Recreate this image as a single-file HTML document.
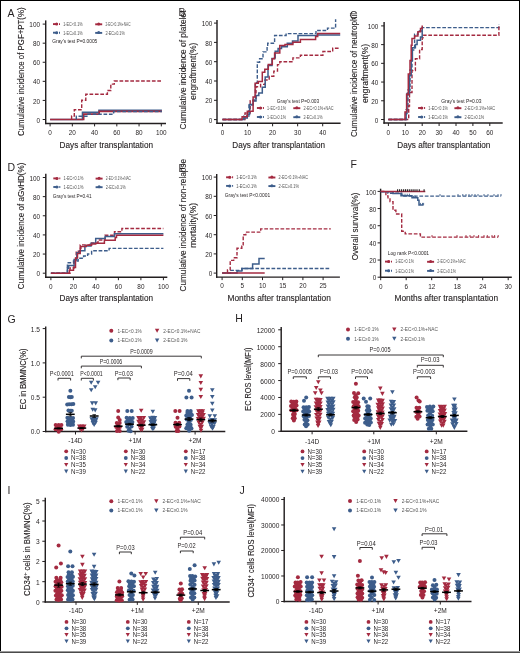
<!DOCTYPE html>
<html><head><meta charset="utf-8"><title>Figure</title>
<style>
html,body{margin:0;padding:0;background:#fff;}
svg{display:block;will-change:transform;}
text{font-family:"Liberation Sans", sans-serif;}
.t{stroke:#231f20;stroke-width:0.12px;}
</style></head>
<body>
<svg width="520" height="653" viewBox="0 0 520 653" fill="#231f20">
<rect x="0" y="0" width="520" height="653" fill="#fff"/>
<text x="7.60" y="16.80" font-size="10.5">A</text>
<line x1="45.70" y1="20.40" x2="45.70" y2="124.10" stroke="#231f20" stroke-width="1.45"/>
<line x1="45.00" y1="123.40" x2="166.00" y2="123.40" stroke="#231f20" stroke-width="1.45"/>
<line x1="42.70" y1="119.50" x2="45.70" y2="119.50" stroke="#231f20" stroke-width="1.0"/>
<text x="40.00" y="122.60" font-size="6.4" text-anchor="end">0</text>
<line x1="42.70" y1="100.42" x2="45.70" y2="100.42" stroke="#231f20" stroke-width="1.0"/>
<text x="40.00" y="103.52" font-size="6.4" text-anchor="end">20</text>
<line x1="42.70" y1="81.34" x2="45.70" y2="81.34" stroke="#231f20" stroke-width="1.0"/>
<text x="40.00" y="84.44" font-size="6.4" text-anchor="end">40</text>
<line x1="42.70" y1="62.26" x2="45.70" y2="62.26" stroke="#231f20" stroke-width="1.0"/>
<text x="40.00" y="65.36" font-size="6.4" text-anchor="end">60</text>
<line x1="42.70" y1="43.18" x2="45.70" y2="43.18" stroke="#231f20" stroke-width="1.0"/>
<text x="40.00" y="46.28" font-size="6.4" text-anchor="end">80</text>
<line x1="42.70" y1="24.10" x2="45.70" y2="24.10" stroke="#231f20" stroke-width="1.0"/>
<text x="40.00" y="27.20" font-size="6.4" text-anchor="end">100</text>
<line x1="50.10" y1="123.40" x2="50.10" y2="126.40" stroke="#231f20" stroke-width="1.0"/>
<text x="50.10" y="135.40" font-size="6.4" text-anchor="middle">0</text>
<line x1="72.34" y1="123.40" x2="72.34" y2="126.40" stroke="#231f20" stroke-width="1.0"/>
<text x="72.34" y="135.40" font-size="6.4" text-anchor="middle">20</text>
<line x1="94.58" y1="123.40" x2="94.58" y2="126.40" stroke="#231f20" stroke-width="1.0"/>
<text x="94.58" y="135.40" font-size="6.4" text-anchor="middle">40</text>
<line x1="116.82" y1="123.40" x2="116.82" y2="126.40" stroke="#231f20" stroke-width="1.0"/>
<text x="116.82" y="135.40" font-size="6.4" text-anchor="middle">60</text>
<line x1="139.06" y1="123.40" x2="139.06" y2="126.40" stroke="#231f20" stroke-width="1.0"/>
<text x="139.06" y="135.40" font-size="6.4" text-anchor="middle">80</text>
<line x1="161.30" y1="123.40" x2="161.30" y2="126.40" stroke="#231f20" stroke-width="1.0"/>
<text x="161.30" y="135.40" font-size="6.4" text-anchor="middle">100</text>
<text x="106.30" y="147.80" font-size="9" text-anchor="middle" textLength="93.50" lengthAdjust="spacingAndGlyphs" class="t">Days after transplantation</text>
<text x="23.60" y="71.70" font-size="9" text-anchor="middle" textLength="128.50" lengthAdjust="spacingAndGlyphs" transform="rotate(-90 23.60 71.70)" class="t">Cumulative incidence of PGF+PT(%)</text>
<line x1="53.00" y1="24.10" x2="58.00" y2="24.10" stroke="#a42a40" stroke-width="1.9"/>
<line x1="59.00" y1="24.10" x2="60.00" y2="24.10" stroke="#a42a40" stroke-width="1.9"/>
<circle cx="56.60" cy="24.10" r="1.5" fill="#a42a40"/>
<text x="63.20" y="25.90" font-size="5.2" textLength="19.50" lengthAdjust="spacingAndGlyphs" fill="#555">1-EC&lt;0.1%</text>
<line x1="53.00" y1="32.70" x2="58.00" y2="32.70" stroke="#3d5d8b" stroke-width="1.9"/>
<line x1="59.00" y1="32.70" x2="60.00" y2="32.70" stroke="#3d5d8b" stroke-width="1.9"/>
<circle cx="56.60" cy="32.70" r="1.5" fill="#3d5d8b"/>
<text x="63.20" y="34.50" font-size="5.2" textLength="19.50" lengthAdjust="spacingAndGlyphs" fill="#555">1-EC≥0.1%</text>
<line x1="95.20" y1="24.30" x2="102.20" y2="24.30" stroke="#a42a40" stroke-width="1.9"/>
<circle cx="98.70" cy="23.90" r="1.5" fill="#a42a40"/>
<text x="105.40" y="25.90" font-size="5.2" textLength="25.10" lengthAdjust="spacingAndGlyphs" fill="#555">2-EC&lt;0.1%+NAC</text>
<line x1="95.20" y1="32.90" x2="102.20" y2="32.90" stroke="#3d5d8b" stroke-width="1.9"/>
<circle cx="98.70" cy="32.50" r="1.5" fill="#3d5d8b"/>
<text x="105.40" y="34.50" font-size="5.2" textLength="19.50" lengthAdjust="spacingAndGlyphs" fill="#555">2-EC≥0.1%</text>
<text x="52.30" y="42.90" font-size="5.9" textLength="45.00" lengthAdjust="spacingAndGlyphs">Gray's test P=0.0005</text>
<path d="M50.1 119.5H82.5V112.4H99V110.2H161.9" fill="none" stroke="#3d5d8b" stroke-width="1.6"/>
<path d="M50.1 119.5H83.7V114.1H99.2V111.4H161.9" fill="none" stroke="#a42a40" stroke-width="1.6"/>
<path d="M76.3 119.5V116.3H88V114.3H113.6V111.6H161.9" fill="none" stroke="#3d5d8b" stroke-width="1.4" stroke-dasharray="3.7 1.7"/>
<path d="M71.6 119.5V116H74.3V109.7H81.7V100.3H85.8V94.2H107.4V90.5H110.8V84.1H114.3V81H161.9" fill="none" stroke="#a42a40" stroke-width="1.4" stroke-dasharray="3.7 1.7"/>
<text x="196.20" y="71.20" font-size="9" text-anchor="middle" textLength="57.00" lengthAdjust="spacingAndGlyphs" transform="rotate(-90 196.20 71.20)" class="t">engraftment(%)</text>
<text x="185.60" y="70.00" font-size="9" text-anchor="middle" textLength="119.00" lengthAdjust="spacingAndGlyphs" transform="rotate(-90 185.60 70.00)" class="t">Cumulative incidence of platelet</text>
<text x="178.60" y="15.80" font-size="10.5">B</text>
<line x1="217.00" y1="19.90" x2="217.00" y2="124.00" stroke="#231f20" stroke-width="1.45"/>
<line x1="216.30" y1="123.30" x2="340.60" y2="123.30" stroke="#231f20" stroke-width="1.45"/>
<line x1="214.00" y1="119.60" x2="217.00" y2="119.60" stroke="#231f20" stroke-width="1.0"/>
<text x="212.40" y="122.70" font-size="6.4" text-anchor="end">0</text>
<line x1="214.00" y1="100.30" x2="217.00" y2="100.30" stroke="#231f20" stroke-width="1.0"/>
<text x="212.40" y="103.40" font-size="6.4" text-anchor="end">20</text>
<line x1="214.00" y1="81.00" x2="217.00" y2="81.00" stroke="#231f20" stroke-width="1.0"/>
<text x="212.40" y="84.10" font-size="6.4" text-anchor="end">40</text>
<line x1="214.00" y1="61.70" x2="217.00" y2="61.70" stroke="#231f20" stroke-width="1.0"/>
<text x="212.40" y="64.80" font-size="6.4" text-anchor="end">60</text>
<line x1="214.00" y1="42.40" x2="217.00" y2="42.40" stroke="#231f20" stroke-width="1.0"/>
<text x="212.40" y="45.50" font-size="6.4" text-anchor="end">80</text>
<line x1="214.00" y1="23.10" x2="217.00" y2="23.10" stroke="#231f20" stroke-width="1.0"/>
<text x="212.40" y="26.20" font-size="6.4" text-anchor="end">100</text>
<line x1="222.50" y1="123.30" x2="222.50" y2="126.30" stroke="#231f20" stroke-width="1.0"/>
<text x="222.50" y="135.40" font-size="6.4" text-anchor="middle">0</text>
<line x1="247.55" y1="123.30" x2="247.55" y2="126.30" stroke="#231f20" stroke-width="1.0"/>
<text x="247.55" y="135.40" font-size="6.4" text-anchor="middle">10</text>
<line x1="272.60" y1="123.30" x2="272.60" y2="126.30" stroke="#231f20" stroke-width="1.0"/>
<text x="272.60" y="135.40" font-size="6.4" text-anchor="middle">20</text>
<line x1="297.65" y1="123.30" x2="297.65" y2="126.30" stroke="#231f20" stroke-width="1.0"/>
<text x="297.65" y="135.40" font-size="6.4" text-anchor="middle">30</text>
<line x1="322.70" y1="123.30" x2="322.70" y2="126.30" stroke="#231f20" stroke-width="1.0"/>
<text x="322.70" y="135.40" font-size="6.4" text-anchor="middle">40</text>
<text x="278.70" y="147.60" font-size="9" text-anchor="middle" textLength="92.70" lengthAdjust="spacingAndGlyphs" class="t">Days after transplantation</text>
<text x="276.80" y="103.10" font-size="5.9" textLength="42.40" lengthAdjust="spacingAndGlyphs">Gray's test P=0.003</text>
<line x1="256.90" y1="108.00" x2="261.90" y2="108.00" stroke="#a42a40" stroke-width="1.9"/>
<line x1="262.90" y1="108.00" x2="263.90" y2="108.00" stroke="#a42a40" stroke-width="1.9"/>
<circle cx="260.50" cy="108.00" r="1.5" fill="#a42a40"/>
<text x="267.10" y="109.80" font-size="5.2" textLength="19.00" lengthAdjust="spacingAndGlyphs" fill="#555">1-EC&lt;0.1%</text>
<line x1="256.90" y1="117.00" x2="261.90" y2="117.00" stroke="#3d5d8b" stroke-width="1.9"/>
<line x1="262.90" y1="117.00" x2="263.90" y2="117.00" stroke="#3d5d8b" stroke-width="1.9"/>
<circle cx="260.50" cy="117.00" r="1.5" fill="#3d5d8b"/>
<text x="267.10" y="118.80" font-size="5.2" textLength="19.00" lengthAdjust="spacingAndGlyphs" fill="#555">1-EC≥0.1%</text>
<line x1="293.30" y1="108.20" x2="300.30" y2="108.20" stroke="#a42a40" stroke-width="1.9"/>
<circle cx="296.80" cy="107.80" r="1.5" fill="#a42a40"/>
<text x="303.50" y="109.80" font-size="5.2" textLength="30.00" lengthAdjust="spacingAndGlyphs" fill="#555">2-EC&lt;0.1%+NAC</text>
<line x1="293.30" y1="117.20" x2="300.30" y2="117.20" stroke="#3d5d8b" stroke-width="1.9"/>
<circle cx="296.80" cy="116.80" r="1.5" fill="#3d5d8b"/>
<text x="303.50" y="118.80" font-size="5.2" textLength="19.00" lengthAdjust="spacingAndGlyphs" fill="#555">2-EC≥0.1%</text>
<path d="M222.5 119.5H244V116H249V105H253V100H255.4V82.7H257.3V62.3H259.6V58.8H263V51.9H267.1V46.1H267.7V43.3H274.6V35.5H286.1V33.6H316V30.5H327.5V28.1H335.6V19.2" fill="none" stroke="#3d5d8b" stroke-width="1.4" stroke-dasharray="3.7 1.7"/>
<path d="M222.5 119.5H245V113H250.2V100.6H256V86.7H260.6V84.4H265V80H269.2V76.3H273.8V71.1H277.5V64.6H279.8V61.7H292.9V57.9H300.4V55.2H322.9V51.5H332.7V48.3H340.2" fill="none" stroke="#a42a40" stroke-width="1.4" stroke-dasharray="3.7 1.7"/>
<path d="M222.5 119.5H243.8V117.9H247.3V114.4H249.6V104.6H253.1V101.1H256V95.4H258.8V93.1H262.3V87.3H265.2V76.9H268V65.4H272V58.5H274.6V57.7H275.2V51.3H278.1V48.4H281.5V46.7H287.3V43.3H292.5V41H298V35.6H317.1V35.1H340.2" fill="none" stroke="#3d5d8b" stroke-width="1.5"/>
<path d="M222.5 119.5H242.1V116.7H247.3V111.3H253.1V97.1H255.1V83.3H258.3V81.5H262.3V72.3H264.8V69.2H268.3V64.6H272.3V58.8H274.6V53.1H279.8V45.6H285V44.4H292.9V42.3H300.4V39.4H315.6V36.5H317.7V33.6H340.2" fill="none" stroke="#a42a40" stroke-width="1.5"/>
<text x="368.00" y="73.40" font-size="9" text-anchor="middle" textLength="59.00" lengthAdjust="spacingAndGlyphs" transform="rotate(-90 368.00 73.40)" class="t">engraftment(%)</text>
<text x="356.80" y="74.90" font-size="9" text-anchor="middle" textLength="124.20" lengthAdjust="spacingAndGlyphs" transform="rotate(-90 356.80 74.90)" class="t">Cumulative incidence of neutrophil</text>
<text x="349.80" y="18.60" font-size="10.5">C</text>
<line x1="384.10" y1="22.10" x2="384.10" y2="123.70" stroke="#231f20" stroke-width="1.45"/>
<line x1="383.40" y1="123.00" x2="502.70" y2="123.00" stroke="#231f20" stroke-width="1.45"/>
<line x1="381.10" y1="119.50" x2="384.10" y2="119.50" stroke="#231f20" stroke-width="1.0"/>
<text x="378.40" y="122.60" font-size="6.4" text-anchor="end">0</text>
<line x1="381.10" y1="100.78" x2="384.10" y2="100.78" stroke="#231f20" stroke-width="1.0"/>
<text x="378.40" y="103.88" font-size="6.4" text-anchor="end">20</text>
<line x1="381.10" y1="82.06" x2="384.10" y2="82.06" stroke="#231f20" stroke-width="1.0"/>
<text x="378.40" y="85.16" font-size="6.4" text-anchor="end">40</text>
<line x1="381.10" y1="63.34" x2="384.10" y2="63.34" stroke="#231f20" stroke-width="1.0"/>
<text x="378.40" y="66.44" font-size="6.4" text-anchor="end">60</text>
<line x1="381.10" y1="44.62" x2="384.10" y2="44.62" stroke="#231f20" stroke-width="1.0"/>
<text x="378.40" y="47.72" font-size="6.4" text-anchor="end">80</text>
<line x1="381.10" y1="25.90" x2="384.10" y2="25.90" stroke="#231f20" stroke-width="1.0"/>
<text x="378.40" y="29.00" font-size="6.4" text-anchor="end">100</text>
<line x1="388.40" y1="123.00" x2="388.40" y2="126.00" stroke="#231f20" stroke-width="1.0"/>
<text x="388.40" y="135.40" font-size="6.4" text-anchor="middle">0</text>
<line x1="405.30" y1="123.00" x2="405.30" y2="126.00" stroke="#231f20" stroke-width="1.0"/>
<text x="405.30" y="135.40" font-size="6.4" text-anchor="middle">10</text>
<line x1="422.20" y1="123.00" x2="422.20" y2="126.00" stroke="#231f20" stroke-width="1.0"/>
<text x="422.20" y="135.40" font-size="6.4" text-anchor="middle">20</text>
<line x1="439.10" y1="123.00" x2="439.10" y2="126.00" stroke="#231f20" stroke-width="1.0"/>
<text x="439.10" y="135.40" font-size="6.4" text-anchor="middle">30</text>
<line x1="456.00" y1="123.00" x2="456.00" y2="126.00" stroke="#231f20" stroke-width="1.0"/>
<text x="456.00" y="135.40" font-size="6.4" text-anchor="middle">40</text>
<line x1="472.90" y1="123.00" x2="472.90" y2="126.00" stroke="#231f20" stroke-width="1.0"/>
<text x="472.90" y="135.40" font-size="6.4" text-anchor="middle">50</text>
<line x1="489.80" y1="123.00" x2="489.80" y2="126.00" stroke="#231f20" stroke-width="1.0"/>
<text x="489.80" y="135.40" font-size="6.4" text-anchor="middle">60</text>
<text x="443.80" y="147.60" font-size="9" text-anchor="middle" textLength="93.10" lengthAdjust="spacingAndGlyphs" class="t">Days after transplantation</text>
<text x="441.20" y="103.00" font-size="5.9" textLength="40.40" lengthAdjust="spacingAndGlyphs">Gray's test P=0.03</text>
<line x1="418.10" y1="108.00" x2="423.10" y2="108.00" stroke="#a42a40" stroke-width="1.9"/>
<line x1="424.10" y1="108.00" x2="425.10" y2="108.00" stroke="#a42a40" stroke-width="1.9"/>
<circle cx="421.70" cy="108.00" r="1.5" fill="#a42a40"/>
<text x="428.30" y="109.80" font-size="5.2" textLength="19.70" lengthAdjust="spacingAndGlyphs" fill="#555">1-EC&lt;0.1%</text>
<line x1="418.10" y1="117.00" x2="423.10" y2="117.00" stroke="#3d5d8b" stroke-width="1.9"/>
<line x1="424.10" y1="117.00" x2="425.10" y2="117.00" stroke="#3d5d8b" stroke-width="1.9"/>
<circle cx="421.70" cy="117.00" r="1.5" fill="#3d5d8b"/>
<text x="428.30" y="118.80" font-size="5.2" textLength="19.70" lengthAdjust="spacingAndGlyphs" fill="#555">1-EC≥0.1%</text>
<line x1="454.40" y1="108.20" x2="461.40" y2="108.20" stroke="#a42a40" stroke-width="1.9"/>
<circle cx="457.90" cy="107.80" r="1.5" fill="#a42a40"/>
<text x="464.60" y="109.80" font-size="5.2" textLength="30.50" lengthAdjust="spacingAndGlyphs" fill="#555">2-EC&lt;0.1%+NAC</text>
<line x1="454.40" y1="117.20" x2="461.40" y2="117.20" stroke="#3d5d8b" stroke-width="1.9"/>
<circle cx="457.90" cy="116.80" r="1.5" fill="#3d5d8b"/>
<text x="464.60" y="118.80" font-size="5.2" textLength="19.70" lengthAdjust="spacingAndGlyphs" fill="#555">2-EC≥0.1%</text>
<path d="M388.4 119.5H406V110H408V90H410V70H412V50H414.6V34.3H418V31H422.2V27.6H498.9V24.6" fill="none" stroke="#3d5d8b" stroke-width="1.4" stroke-dasharray="3.7 1.7"/>
<path d="M388.4 119.5H408.7V106H409.5V92.5H412V70.6H415.4V58.8H419.6V49.5H422.2V37.7H423.8V35.2H498.9V25.6" fill="none" stroke="#a42a40" stroke-width="1.4" stroke-dasharray="3.7 1.7"/>
<path d="M388.4 119.5H406.1V113.6H407V93.4H409.5V75.6H411.2V60.5H412.4V47.8H415.4V44.5H417.1V40.2H420.5V36.9H422.2V27.6" fill="none" stroke="#3d5d8b" stroke-width="1.5"/>
<path d="M388.4 119.5H405V111.9H406.6V94.2H408.3V74H410V60.5H411.2V45.3H412V38.5H414.6V36H417.9V31.8H420.5V28.4H422.2V25.4" fill="none" stroke="#a42a40" stroke-width="1.5"/>
<text x="7.60" y="170.60" font-size="10.5">D</text>
<line x1="45.80" y1="173.70" x2="45.80" y2="277.90" stroke="#231f20" stroke-width="1.45"/>
<line x1="45.10" y1="277.20" x2="167.30" y2="277.20" stroke="#231f20" stroke-width="1.45"/>
<line x1="42.80" y1="273.20" x2="45.80" y2="273.20" stroke="#231f20" stroke-width="1.0"/>
<text x="40.10" y="276.30" font-size="6.4" text-anchor="end">0</text>
<line x1="42.80" y1="254.06" x2="45.80" y2="254.06" stroke="#231f20" stroke-width="1.0"/>
<text x="40.10" y="257.16" font-size="6.4" text-anchor="end">20</text>
<line x1="42.80" y1="234.92" x2="45.80" y2="234.92" stroke="#231f20" stroke-width="1.0"/>
<text x="40.10" y="238.02" font-size="6.4" text-anchor="end">40</text>
<line x1="42.80" y1="215.78" x2="45.80" y2="215.78" stroke="#231f20" stroke-width="1.0"/>
<text x="40.10" y="218.88" font-size="6.4" text-anchor="end">60</text>
<line x1="42.80" y1="196.64" x2="45.80" y2="196.64" stroke="#231f20" stroke-width="1.0"/>
<text x="40.10" y="199.74" font-size="6.4" text-anchor="end">80</text>
<line x1="42.80" y1="177.50" x2="45.80" y2="177.50" stroke="#231f20" stroke-width="1.0"/>
<text x="40.10" y="180.60" font-size="6.4" text-anchor="end">100</text>
<line x1="50.90" y1="277.20" x2="50.90" y2="280.20" stroke="#231f20" stroke-width="1.0"/>
<text x="50.90" y="289.20" font-size="6.4" text-anchor="middle">0</text>
<line x1="73.40" y1="277.20" x2="73.40" y2="280.20" stroke="#231f20" stroke-width="1.0"/>
<text x="73.40" y="289.20" font-size="6.4" text-anchor="middle">20</text>
<line x1="95.90" y1="277.20" x2="95.90" y2="280.20" stroke="#231f20" stroke-width="1.0"/>
<text x="95.90" y="289.20" font-size="6.4" text-anchor="middle">40</text>
<line x1="118.40" y1="277.20" x2="118.40" y2="280.20" stroke="#231f20" stroke-width="1.0"/>
<text x="118.40" y="289.20" font-size="6.4" text-anchor="middle">60</text>
<line x1="140.90" y1="277.20" x2="140.90" y2="280.20" stroke="#231f20" stroke-width="1.0"/>
<text x="140.90" y="289.20" font-size="6.4" text-anchor="middle">80</text>
<line x1="163.40" y1="277.20" x2="163.40" y2="280.20" stroke="#231f20" stroke-width="1.0"/>
<text x="163.40" y="289.20" font-size="6.4" text-anchor="middle">100</text>
<text x="106.30" y="301.20" font-size="9" text-anchor="middle" textLength="93.50" lengthAdjust="spacingAndGlyphs" class="t">Days after transplantation</text>
<text x="23.60" y="225.90" font-size="9" text-anchor="middle" textLength="126.50" lengthAdjust="spacingAndGlyphs" transform="rotate(-90 23.60 225.90)" class="t">Cumulative incidence of aGvHD(%)</text>
<line x1="53.30" y1="178.40" x2="58.30" y2="178.40" stroke="#a42a40" stroke-width="1.9"/>
<line x1="59.30" y1="178.40" x2="60.30" y2="178.40" stroke="#a42a40" stroke-width="1.9"/>
<circle cx="56.90" cy="178.40" r="1.5" fill="#a42a40"/>
<text x="63.50" y="180.20" font-size="5.2" textLength="19.90" lengthAdjust="spacingAndGlyphs" fill="#555">1-EC&lt;0.1%</text>
<line x1="53.30" y1="187.00" x2="58.30" y2="187.00" stroke="#3d5d8b" stroke-width="1.9"/>
<line x1="59.30" y1="187.00" x2="60.30" y2="187.00" stroke="#3d5d8b" stroke-width="1.9"/>
<circle cx="56.90" cy="187.00" r="1.5" fill="#3d5d8b"/>
<text x="63.50" y="188.80" font-size="5.2" textLength="19.90" lengthAdjust="spacingAndGlyphs" fill="#555">1-EC≥0.1%</text>
<line x1="95.60" y1="178.60" x2="102.60" y2="178.60" stroke="#a42a40" stroke-width="1.9"/>
<circle cx="99.10" cy="178.20" r="1.5" fill="#a42a40"/>
<text x="105.80" y="180.20" font-size="5.2" textLength="25.10" lengthAdjust="spacingAndGlyphs" fill="#555">2-EC&lt;0.1%+NAC</text>
<line x1="95.60" y1="187.20" x2="102.60" y2="187.20" stroke="#3d5d8b" stroke-width="1.9"/>
<circle cx="99.10" cy="186.80" r="1.5" fill="#3d5d8b"/>
<text x="105.80" y="188.80" font-size="5.2" textLength="19.90" lengthAdjust="spacingAndGlyphs" fill="#555">2-EC≥0.1%</text>
<text x="52.80" y="197.50" font-size="5.9" textLength="38.80" lengthAdjust="spacingAndGlyphs">Gray's test P=0.41</text>
<path d="M50.9 273.2H67.4V262.8H73.5V261H78.2V258.3H83.6V256H87.6V254H91.6V250.7H109.1V248.4H163.4" fill="none" stroke="#3d5d8b" stroke-width="1.4" stroke-dasharray="3.7 1.7"/>
<path d="M50.9 273.2H70V268H74V262H76.2V251.3H80.2V244.9H90V243H98V240H105.1V235.2H114.5V231.8H121.9V228.5H163.4" fill="none" stroke="#a42a40" stroke-width="1.4" stroke-dasharray="3.7 1.7"/>
<path d="M50.9 273.2H67.4V268.2H68.7V265.5H74.1V259.4H76.8V252.7H79.5V250.7H84.9V246H91V243.3H95.7V238.6H105.1V236.5H114.5V233.8H163.4" fill="none" stroke="#3d5d8b" stroke-width="1.5"/>
<path d="M50.9 273.2H69.4V270.2H73.5V267.5H75.5V258.1H77.5V253.4H80.2V248.6H80.9V246.6H86.2V245.3H91.6V243.9H95.7V243.3H104.4V240.3H115.2V237.6H116.5V235.2H163.4" fill="none" stroke="#a42a40" stroke-width="1.5"/>
<text x="195.70" y="225.30" font-size="9" text-anchor="middle" textLength="44.80" lengthAdjust="spacingAndGlyphs" transform="rotate(-90 195.70 225.30)" class="t">mortality(%)</text>
<text x="185.60" y="225.20" font-size="9" text-anchor="middle" textLength="132.40" lengthAdjust="spacingAndGlyphs" transform="rotate(-90 185.60 225.20)" class="t">Cumulative incidence of non-relapse</text>
<text x="178.40" y="171.50" font-size="10.5">E</text>
<line x1="216.70" y1="174.00" x2="216.70" y2="277.80" stroke="#231f20" stroke-width="1.45"/>
<line x1="216.00" y1="277.10" x2="339.90" y2="277.10" stroke="#231f20" stroke-width="1.45"/>
<line x1="213.70" y1="273.10" x2="216.70" y2="273.10" stroke="#231f20" stroke-width="1.0"/>
<text x="212.40" y="276.20" font-size="6.4" text-anchor="end">0</text>
<line x1="213.70" y1="253.90" x2="216.70" y2="253.90" stroke="#231f20" stroke-width="1.0"/>
<text x="212.40" y="257.00" font-size="6.4" text-anchor="end">20</text>
<line x1="213.70" y1="234.70" x2="216.70" y2="234.70" stroke="#231f20" stroke-width="1.0"/>
<text x="212.40" y="237.80" font-size="6.4" text-anchor="end">40</text>
<line x1="213.70" y1="215.50" x2="216.70" y2="215.50" stroke="#231f20" stroke-width="1.0"/>
<text x="212.40" y="218.60" font-size="6.4" text-anchor="end">60</text>
<line x1="213.70" y1="196.30" x2="216.70" y2="196.30" stroke="#231f20" stroke-width="1.0"/>
<text x="212.40" y="199.40" font-size="6.4" text-anchor="end">80</text>
<line x1="213.70" y1="177.10" x2="216.70" y2="177.10" stroke="#231f20" stroke-width="1.0"/>
<text x="212.40" y="180.20" font-size="6.4" text-anchor="end">100</text>
<line x1="222.10" y1="277.10" x2="222.10" y2="280.10" stroke="#231f20" stroke-width="1.0"/>
<text x="222.10" y="288.30" font-size="6.4" text-anchor="middle">0</text>
<line x1="242.30" y1="277.10" x2="242.30" y2="280.10" stroke="#231f20" stroke-width="1.0"/>
<text x="242.30" y="288.30" font-size="6.4" text-anchor="middle">5</text>
<line x1="262.50" y1="277.10" x2="262.50" y2="280.10" stroke="#231f20" stroke-width="1.0"/>
<text x="262.50" y="288.30" font-size="6.4" text-anchor="middle">10</text>
<line x1="282.70" y1="277.10" x2="282.70" y2="280.10" stroke="#231f20" stroke-width="1.0"/>
<text x="282.70" y="288.30" font-size="6.4" text-anchor="middle">15</text>
<line x1="302.90" y1="277.10" x2="302.90" y2="280.10" stroke="#231f20" stroke-width="1.0"/>
<text x="302.90" y="288.30" font-size="6.4" text-anchor="middle">20</text>
<line x1="323.10" y1="277.10" x2="323.10" y2="280.10" stroke="#231f20" stroke-width="1.0"/>
<text x="323.10" y="288.30" font-size="6.4" text-anchor="middle">25</text>
<text x="279.20" y="301.30" font-size="9" text-anchor="middle" textLength="103.30" lengthAdjust="spacingAndGlyphs" class="t">Months after transplantation</text>
<line x1="226.10" y1="177.30" x2="231.10" y2="177.30" stroke="#a42a40" stroke-width="1.9"/>
<line x1="232.10" y1="177.30" x2="233.10" y2="177.30" stroke="#a42a40" stroke-width="1.9"/>
<circle cx="229.70" cy="177.30" r="1.5" fill="#a42a40"/>
<text x="236.30" y="179.10" font-size="5.2" textLength="20.40" lengthAdjust="spacingAndGlyphs" fill="#555">1-EC&lt;0.1%</text>
<line x1="226.10" y1="185.90" x2="231.10" y2="185.90" stroke="#3d5d8b" stroke-width="1.9"/>
<line x1="232.10" y1="185.90" x2="233.10" y2="185.90" stroke="#3d5d8b" stroke-width="1.9"/>
<circle cx="229.70" cy="185.90" r="1.5" fill="#3d5d8b"/>
<text x="236.30" y="187.70" font-size="5.2" textLength="20.40" lengthAdjust="spacingAndGlyphs" fill="#555">1-EC≥0.1%</text>
<line x1="268.40" y1="177.50" x2="275.40" y2="177.50" stroke="#a42a40" stroke-width="1.9"/>
<circle cx="271.90" cy="177.10" r="1.5" fill="#a42a40"/>
<text x="278.60" y="179.10" font-size="5.2" textLength="29.40" lengthAdjust="spacingAndGlyphs" fill="#555">2-EC&lt;0.1%+NAC</text>
<line x1="268.40" y1="186.10" x2="275.40" y2="186.10" stroke="#3d5d8b" stroke-width="1.9"/>
<circle cx="271.90" cy="185.70" r="1.5" fill="#3d5d8b"/>
<text x="278.60" y="187.70" font-size="5.2" textLength="20.40" lengthAdjust="spacingAndGlyphs" fill="#555">2-EC≥0.1%</text>
<text x="224.80" y="197.20" font-size="5.9" textLength="45.40" lengthAdjust="spacingAndGlyphs">Gray's test P&lt;0.0001</text>
<path d="M222.1 273.1H230.2V270.4H242V268.5H330.8" fill="none" stroke="#3d5d8b" stroke-width="1.4" stroke-dasharray="3.7 1.7"/>
<path d="M227.5 273.1V269.9H230.2V260.4H233.7V257.7H237V248.3H241.8V246.1H243.2V234.8H245.8V232.1H260.7V228.9H330.8" fill="none" stroke="#a42a40" stroke-width="1.4" stroke-dasharray="3.7 1.7"/>
<path d="M222.1 273.1H237V271H241.8V268.5H252.6V263.9H259V258.5H264.7" fill="none" stroke="#3d5d8b" stroke-width="1.5"/>
<path d="M222.1 273.1H264.7" fill="none" stroke="#a42a40" stroke-width="1.5"/>
<text x="350.60" y="168.40" font-size="10.5">F</text>
<line x1="380.60" y1="188.70" x2="380.60" y2="277.90" stroke="#231f20" stroke-width="1.45"/>
<line x1="379.90" y1="277.20" x2="511.80" y2="277.20" stroke="#231f20" stroke-width="1.45"/>
<line x1="377.60" y1="277.20" x2="380.60" y2="277.20" stroke="#231f20" stroke-width="1.0"/>
<text x="376.30" y="280.30" font-size="6.4" text-anchor="end">0</text>
<line x1="377.60" y1="260.04" x2="380.60" y2="260.04" stroke="#231f20" stroke-width="1.0"/>
<text x="376.30" y="263.14" font-size="6.4" text-anchor="end">20</text>
<line x1="377.60" y1="242.88" x2="380.60" y2="242.88" stroke="#231f20" stroke-width="1.0"/>
<text x="376.30" y="245.98" font-size="6.4" text-anchor="end">40</text>
<line x1="377.60" y1="225.72" x2="380.60" y2="225.72" stroke="#231f20" stroke-width="1.0"/>
<text x="376.30" y="228.82" font-size="6.4" text-anchor="end">60</text>
<line x1="377.60" y1="208.56" x2="380.60" y2="208.56" stroke="#231f20" stroke-width="1.0"/>
<text x="376.30" y="211.66" font-size="6.4" text-anchor="end">80</text>
<line x1="377.60" y1="191.40" x2="380.60" y2="191.40" stroke="#231f20" stroke-width="1.0"/>
<text x="376.30" y="194.50" font-size="6.4" text-anchor="end">100</text>
<line x1="380.70" y1="277.20" x2="380.70" y2="280.20" stroke="#231f20" stroke-width="1.0"/>
<text x="380.70" y="289.00" font-size="6.4" text-anchor="middle">0</text>
<line x1="406.20" y1="277.20" x2="406.20" y2="280.20" stroke="#231f20" stroke-width="1.0"/>
<text x="406.20" y="289.00" font-size="6.4" text-anchor="middle">6</text>
<line x1="431.70" y1="277.20" x2="431.70" y2="280.20" stroke="#231f20" stroke-width="1.0"/>
<text x="431.70" y="289.00" font-size="6.4" text-anchor="middle">12</text>
<line x1="457.20" y1="277.20" x2="457.20" y2="280.20" stroke="#231f20" stroke-width="1.0"/>
<text x="457.20" y="289.00" font-size="6.4" text-anchor="middle">18</text>
<line x1="482.70" y1="277.20" x2="482.70" y2="280.20" stroke="#231f20" stroke-width="1.0"/>
<text x="482.70" y="289.00" font-size="6.4" text-anchor="middle">24</text>
<line x1="508.20" y1="277.20" x2="508.20" y2="280.20" stroke="#231f20" stroke-width="1.0"/>
<text x="508.20" y="289.00" font-size="6.4" text-anchor="middle">30</text>
<text x="446.30" y="301.30" font-size="9" text-anchor="middle" textLength="103.70" lengthAdjust="spacingAndGlyphs" class="t">Months after transplantation</text>
<text x="358.00" y="226.40" font-size="9" text-anchor="middle" textLength="67.80" lengthAdjust="spacingAndGlyphs" transform="rotate(-90 358.00 226.40)" class="t">Overall survival(%)</text>
<text x="387.70" y="254.90" font-size="5.9" textLength="41.40" lengthAdjust="spacingAndGlyphs">Log rank P&lt;0.0001</text>
<line x1="385.00" y1="261.60" x2="390.00" y2="261.60" stroke="#a42a40" stroke-width="1.9"/>
<line x1="391.00" y1="261.60" x2="392.00" y2="261.60" stroke="#a42a40" stroke-width="1.9"/>
<circle cx="388.60" cy="261.60" r="1.5" fill="#a42a40"/>
<text x="395.20" y="263.40" font-size="5.2" textLength="18.70" lengthAdjust="spacingAndGlyphs" fill="#555">1-EC&lt;0.1%</text>
<line x1="385.00" y1="270.70" x2="390.00" y2="270.70" stroke="#3d5d8b" stroke-width="1.9"/>
<line x1="391.00" y1="270.70" x2="392.00" y2="270.70" stroke="#3d5d8b" stroke-width="1.9"/>
<circle cx="388.60" cy="270.70" r="1.5" fill="#3d5d8b"/>
<text x="395.20" y="272.50" font-size="5.2" textLength="18.70" lengthAdjust="spacingAndGlyphs" fill="#555">1-EC≥0.1%</text>
<line x1="427.10" y1="261.80" x2="434.10" y2="261.80" stroke="#a42a40" stroke-width="1.9"/>
<circle cx="430.60" cy="261.40" r="1.5" fill="#a42a40"/>
<text x="437.30" y="263.40" font-size="5.2" textLength="28.20" lengthAdjust="spacingAndGlyphs" fill="#555">2-EC&lt;0.1%+NAC</text>
<line x1="427.10" y1="270.90" x2="434.10" y2="270.90" stroke="#3d5d8b" stroke-width="1.9"/>
<circle cx="430.60" cy="270.50" r="1.5" fill="#3d5d8b"/>
<text x="437.30" y="272.50" font-size="5.2" textLength="18.70" lengthAdjust="spacingAndGlyphs" fill="#555">2-EC≥0.1%</text>
<path d="M380.7 191.4H385.9V195.9H388V199H390V201.6H393V210.3H395.9V214H401.7V231.3H405.2V233.9H420.4V237.1H498.2" fill="none" stroke="#a42a40" stroke-width="1.4" stroke-dasharray="3.7 1.7"/>
<path d="M380.7 191.6H388V193.2H401.7V196.1H501.1" fill="none" stroke="#3d5d8b" stroke-width="1.4" stroke-dasharray="3.7 1.7"/>
<path d="M380.7 191.8H393V193.6H401V195.7H412V197.8H417.8V200.3H419V204.9H423.6" fill="none" stroke="#3d5d8b" stroke-width="1.5"/>
<path d="M380.7 191.6H425.3" fill="none" stroke="#a42a40" stroke-width="1.5"/>
<line x1="397.60" y1="191.60" x2="397.60" y2="189.20" stroke="#231f20" stroke-width="1.1"/>
<line x1="399.60" y1="191.60" x2="399.60" y2="189.20" stroke="#231f20" stroke-width="1.1"/>
<line x1="401.60" y1="191.60" x2="401.60" y2="189.20" stroke="#231f20" stroke-width="1.1"/>
<line x1="403.60" y1="191.60" x2="403.60" y2="189.20" stroke="#231f20" stroke-width="1.1"/>
<line x1="405.50" y1="191.60" x2="405.50" y2="189.20" stroke="#231f20" stroke-width="1.1"/>
<line x1="407.40" y1="191.60" x2="407.40" y2="189.20" stroke="#231f20" stroke-width="1.1"/>
<line x1="409.30" y1="191.60" x2="409.30" y2="189.20" stroke="#231f20" stroke-width="1.1"/>
<line x1="411.20" y1="191.60" x2="411.20" y2="189.20" stroke="#231f20" stroke-width="1.1"/>
<line x1="413.10" y1="191.60" x2="413.10" y2="189.20" stroke="#231f20" stroke-width="1.1"/>
<line x1="415.00" y1="191.60" x2="415.00" y2="189.20" stroke="#231f20" stroke-width="1.1"/>
<line x1="417.00" y1="191.60" x2="417.00" y2="189.20" stroke="#231f20" stroke-width="1.1"/>
<line x1="419.30" y1="191.60" x2="419.30" y2="189.20" stroke="#231f20" stroke-width="1.1"/>
<line x1="424.10" y1="191.60" x2="424.10" y2="189.20" stroke="#231f20" stroke-width="1.1"/>
<line x1="402.80" y1="195.70" x2="402.80" y2="193.70" stroke="#3d5d8b" stroke-width="0.9"/>
<line x1="405.00" y1="195.70" x2="405.00" y2="193.70" stroke="#3d5d8b" stroke-width="0.9"/>
<line x1="407.20" y1="195.70" x2="407.20" y2="193.70" stroke="#3d5d8b" stroke-width="0.9"/>
<line x1="409.40" y1="195.70" x2="409.40" y2="193.70" stroke="#3d5d8b" stroke-width="0.9"/>
<line x1="413.50" y1="197.80" x2="413.50" y2="195.80" stroke="#3d5d8b" stroke-width="0.9"/>
<line x1="415.60" y1="197.80" x2="415.60" y2="195.80" stroke="#3d5d8b" stroke-width="0.9"/>
<line x1="420.40" y1="204.90" x2="420.40" y2="202.90" stroke="#3d5d8b" stroke-width="0.9"/>
<line x1="422.50" y1="204.90" x2="422.50" y2="202.90" stroke="#3d5d8b" stroke-width="0.9"/>
<line x1="423.60" y1="204.90" x2="423.60" y2="202.90" stroke="#3d5d8b" stroke-width="0.9"/>
<line x1="440.00" y1="196.10" x2="440.00" y2="194.00" stroke="#3d5d8b" stroke-width="0.9"/>
<line x1="458.00" y1="196.10" x2="458.00" y2="194.00" stroke="#3d5d8b" stroke-width="0.9"/>
<line x1="462.80" y1="196.10" x2="462.80" y2="194.00" stroke="#3d5d8b" stroke-width="0.9"/>
<line x1="466.00" y1="196.10" x2="466.00" y2="194.00" stroke="#3d5d8b" stroke-width="0.9"/>
<line x1="469.00" y1="196.10" x2="469.00" y2="194.00" stroke="#3d5d8b" stroke-width="0.9"/>
<line x1="472.00" y1="196.10" x2="472.00" y2="194.00" stroke="#3d5d8b" stroke-width="0.9"/>
<line x1="475.00" y1="196.10" x2="475.00" y2="194.00" stroke="#3d5d8b" stroke-width="0.9"/>
<line x1="478.00" y1="196.10" x2="478.00" y2="194.00" stroke="#3d5d8b" stroke-width="0.9"/>
<line x1="484.00" y1="196.10" x2="484.00" y2="194.00" stroke="#3d5d8b" stroke-width="0.9"/>
<line x1="488.00" y1="196.10" x2="488.00" y2="194.00" stroke="#3d5d8b" stroke-width="0.9"/>
<line x1="494.00" y1="196.10" x2="494.00" y2="194.00" stroke="#3d5d8b" stroke-width="0.9"/>
<line x1="498.00" y1="196.10" x2="498.00" y2="194.00" stroke="#3d5d8b" stroke-width="0.9"/>
<line x1="501.00" y1="196.10" x2="501.00" y2="194.00" stroke="#3d5d8b" stroke-width="0.9"/>
<line x1="432.00" y1="237.10" x2="432.00" y2="235.00" stroke="#a42a40" stroke-width="0.9"/>
<line x1="457.00" y1="237.10" x2="457.00" y2="235.00" stroke="#a42a40" stroke-width="0.9"/>
<line x1="466.00" y1="237.10" x2="466.00" y2="235.00" stroke="#a42a40" stroke-width="0.9"/>
<line x1="470.00" y1="237.10" x2="470.00" y2="235.00" stroke="#a42a40" stroke-width="0.9"/>
<line x1="474.00" y1="237.10" x2="474.00" y2="235.00" stroke="#a42a40" stroke-width="0.9"/>
<line x1="478.60" y1="237.10" x2="478.60" y2="235.00" stroke="#a42a40" stroke-width="0.9"/>
<line x1="484.00" y1="237.10" x2="484.00" y2="235.00" stroke="#a42a40" stroke-width="0.9"/>
<line x1="487.30" y1="237.10" x2="487.30" y2="235.00" stroke="#a42a40" stroke-width="0.9"/>
<line x1="492.00" y1="237.10" x2="492.00" y2="235.00" stroke="#a42a40" stroke-width="0.9"/>
<line x1="494.60" y1="237.10" x2="494.60" y2="235.00" stroke="#a42a40" stroke-width="0.9"/>
<line x1="498.20" y1="237.10" x2="498.20" y2="235.00" stroke="#a42a40" stroke-width="0.9"/>
<text x="7.60" y="322.60" font-size="10.5">G</text>
<line x1="45.70" y1="326.50" x2="45.70" y2="432.20" stroke="#231f20" stroke-width="1.45"/>
<line x1="45.00" y1="431.50" x2="225.30" y2="431.50" stroke="#231f20" stroke-width="1.45"/>
<line x1="42.70" y1="431.50" x2="45.70" y2="431.50" stroke="#231f20" stroke-width="1.0"/>
<text x="40.00" y="434.48" font-size="6.6" text-anchor="end">0.0</text>
<line x1="42.70" y1="397.20" x2="45.70" y2="397.20" stroke="#231f20" stroke-width="1.0"/>
<text x="40.00" y="400.18" font-size="6.6" text-anchor="end">0.5</text>
<line x1="42.70" y1="362.90" x2="45.70" y2="362.90" stroke="#231f20" stroke-width="1.0"/>
<text x="40.00" y="365.88" font-size="6.6" text-anchor="end">1.0</text>
<line x1="42.70" y1="328.60" x2="45.70" y2="328.60" stroke="#231f20" stroke-width="1.0"/>
<text x="40.00" y="331.58" font-size="6.6" text-anchor="end">1.5</text>
<line x1="75.50" y1="431.50" x2="75.50" y2="434.50" stroke="#231f20" stroke-width="1.0"/>
<text x="75.50" y="443.30" font-size="6.6" text-anchor="middle">-14D</text>
<line x1="135.10" y1="431.50" x2="135.10" y2="434.50" stroke="#231f20" stroke-width="1.0"/>
<text x="135.10" y="443.30" font-size="6.6" text-anchor="middle">+1M</text>
<line x1="195.10" y1="431.50" x2="195.10" y2="434.50" stroke="#231f20" stroke-width="1.0"/>
<text x="195.10" y="443.30" font-size="6.6" text-anchor="middle">+2M</text>
<text x="25.60" y="378.90" font-size="8.6" text-anchor="middle" textLength="60.70" lengthAdjust="spacingAndGlyphs" transform="rotate(-90 25.60 378.90)" class="t">EC in BMMNC(%)</text>
<circle cx="111.30" cy="330.80" r="2.0" fill="#a42a40"/>
<text x="117.50" y="332.70" font-size="5.4" textLength="24.20" lengthAdjust="spacingAndGlyphs" fill="#555">1-EC&lt;0.1%</text>
<circle cx="111.30" cy="340.50" r="2.0" fill="#3d5d8b"/>
<text x="117.50" y="342.40" font-size="5.4" textLength="24.20" lengthAdjust="spacingAndGlyphs" fill="#555">1-EC≥0.1%</text>
<path d="M154.90 328.82H159.30L157.10 332.78Z" fill="#a42a40"/>
<text x="163.30" y="332.70" font-size="5.4" textLength="37.00" lengthAdjust="spacingAndGlyphs" fill="#555">2-EC&lt;0.1%+NAC</text>
<path d="M154.90 338.52H159.30L157.10 342.48Z" fill="#3d5d8b"/>
<text x="163.30" y="342.40" font-size="5.4" textLength="24.20" lengthAdjust="spacingAndGlyphs" fill="#555">2-EC≥0.1%</text>
<circle cx="66.20" cy="451.30" r="1.9" fill="#a42a40"/>
<text x="71.10" y="453.65" font-size="6.6" textLength="14.80" lengthAdjust="spacingAndGlyphs">N=30</text>
<circle cx="66.20" cy="458.00" r="1.9" fill="#3d5d8b"/>
<text x="71.10" y="460.35" font-size="6.6" textLength="14.80" lengthAdjust="spacingAndGlyphs">N=38</text>
<path d="M64.10 462.91H68.30L66.20 466.69Z" fill="#a42a40"/>
<text x="71.10" y="467.15" font-size="6.6" textLength="14.80" lengthAdjust="spacingAndGlyphs">N=35</text>
<path d="M64.10 469.61H68.30L66.20 473.39Z" fill="#3d5d8b"/>
<text x="71.10" y="473.85" font-size="6.6" textLength="14.80" lengthAdjust="spacingAndGlyphs">N=39</text>
<circle cx="125.80" cy="451.30" r="1.9" fill="#a42a40"/>
<text x="130.70" y="453.65" font-size="6.6" textLength="14.80" lengthAdjust="spacingAndGlyphs">N=30</text>
<circle cx="125.80" cy="458.00" r="1.9" fill="#3d5d8b"/>
<text x="130.70" y="460.35" font-size="6.6" textLength="14.80" lengthAdjust="spacingAndGlyphs">N=38</text>
<path d="M123.70 462.91H127.90L125.80 466.69Z" fill="#a42a40"/>
<text x="130.70" y="467.15" font-size="6.6" textLength="14.80" lengthAdjust="spacingAndGlyphs">N=34</text>
<path d="M123.70 469.61H127.90L125.80 473.39Z" fill="#3d5d8b"/>
<text x="130.70" y="473.85" font-size="6.6" textLength="14.80" lengthAdjust="spacingAndGlyphs">N=22</text>
<circle cx="185.80" cy="451.30" r="1.9" fill="#a42a40"/>
<text x="190.70" y="453.65" font-size="6.6" textLength="14.80" lengthAdjust="spacingAndGlyphs">N=17</text>
<circle cx="185.80" cy="458.00" r="1.9" fill="#3d5d8b"/>
<text x="190.70" y="460.35" font-size="6.6" textLength="14.80" lengthAdjust="spacingAndGlyphs">N=38</text>
<path d="M183.70 462.91H187.90L185.80 466.69Z" fill="#a42a40"/>
<text x="190.70" y="467.15" font-size="6.6" textLength="14.80" lengthAdjust="spacingAndGlyphs">N=34</text>
<path d="M183.70 469.61H187.90L185.80 473.39Z" fill="#3d5d8b"/>
<text x="190.70" y="473.85" font-size="6.6" textLength="14.80" lengthAdjust="spacingAndGlyphs">N=22</text>
<circle cx="55.69" cy="424.99" r="2.0" fill="#a42a40"/>
<circle cx="58.69" cy="424.94" r="2.0" fill="#a42a40"/>
<circle cx="61.42" cy="425.12" r="2.0" fill="#a42a40"/>
<circle cx="56.93" cy="427.30" r="2.0" fill="#a42a40"/>
<circle cx="59.72" cy="427.26" r="2.0" fill="#a42a40"/>
<circle cx="55.54" cy="429.15" r="2.0" fill="#a42a40"/>
<circle cx="58.55" cy="429.60" r="2.0" fill="#a42a40"/>
<circle cx="61.17" cy="429.23" r="2.0" fill="#a42a40"/>
<circle cx="58.68" cy="431.77" r="2.0" fill="#a42a40"/>
<line x1="54.20" y1="428.40" x2="63.00" y2="428.40" stroke="#000" stroke-width="1.5"/>
<line x1="58.60" y1="427.90" x2="58.60" y2="428.90" stroke="#000" stroke-width="0.9"/>
<line x1="56.80" y1="427.90" x2="60.40" y2="427.90" stroke="#000" stroke-width="0.8"/>
<line x1="56.80" y1="428.90" x2="60.40" y2="428.90" stroke="#000" stroke-width="0.8"/>
<circle cx="70.35" cy="390.74" r="2.0" fill="#3d5d8b"/>
<circle cx="68.89" cy="397.03" r="2.0" fill="#3d5d8b"/>
<circle cx="70.52" cy="397.17" r="2.0" fill="#3d5d8b"/>
<circle cx="71.79" cy="397.07" r="2.0" fill="#3d5d8b"/>
<circle cx="67.19" cy="404.49" r="2.0" fill="#3d5d8b"/>
<circle cx="69.11" cy="404.35" r="2.0" fill="#3d5d8b"/>
<circle cx="71.38" cy="404.22" r="2.0" fill="#3d5d8b"/>
<circle cx="73.33" cy="404.04" r="2.0" fill="#3d5d8b"/>
<circle cx="68.44" cy="410.62" r="2.0" fill="#3d5d8b"/>
<circle cx="70.41" cy="410.76" r="2.0" fill="#3d5d8b"/>
<circle cx="71.79" cy="410.85" r="2.0" fill="#3d5d8b"/>
<circle cx="67.38" cy="417.78" r="2.0" fill="#3d5d8b"/>
<circle cx="70.48" cy="418.02" r="2.0" fill="#3d5d8b"/>
<circle cx="73.04" cy="417.94" r="2.0" fill="#3d5d8b"/>
<circle cx="68.82" cy="419.88" r="2.0" fill="#3d5d8b"/>
<circle cx="71.93" cy="419.52" r="2.0" fill="#3d5d8b"/>
<circle cx="67.52" cy="421.17" r="2.0" fill="#3d5d8b"/>
<circle cx="70.25" cy="421.55" r="2.0" fill="#3d5d8b"/>
<circle cx="73.16" cy="421.39" r="2.0" fill="#3d5d8b"/>
<circle cx="68.44" cy="423.25" r="2.0" fill="#3d5d8b"/>
<circle cx="72.04" cy="423.19" r="2.0" fill="#3d5d8b"/>
<circle cx="67.87" cy="424.79" r="2.0" fill="#3d5d8b"/>
<circle cx="70.42" cy="424.96" r="2.0" fill="#3d5d8b"/>
<circle cx="73.00" cy="424.87" r="2.0" fill="#3d5d8b"/>
<line x1="65.90" y1="414.30" x2="74.70" y2="414.30" stroke="#000" stroke-width="1.5"/>
<line x1="70.30" y1="412.70" x2="70.30" y2="415.90" stroke="#000" stroke-width="0.9"/>
<line x1="68.50" y1="412.70" x2="72.10" y2="412.70" stroke="#000" stroke-width="0.8"/>
<line x1="68.50" y1="415.90" x2="72.10" y2="415.90" stroke="#000" stroke-width="0.8"/>
<path d="M77.00 424.58H81.60L79.30 428.72Z" fill="#a42a40"/>
<path d="M79.48 424.41H84.08L81.78 428.55Z" fill="#a42a40"/>
<path d="M81.94 424.44H86.54L84.24 428.58Z" fill="#a42a40"/>
<path d="M78.43 426.05H83.03L80.73 430.19Z" fill="#a42a40"/>
<path d="M80.85 425.63H85.45L83.15 429.77Z" fill="#a42a40"/>
<path d="M77.77 427.30H82.37L80.07 431.44Z" fill="#a42a40"/>
<path d="M80.87 427.18H85.47L83.17 431.32Z" fill="#a42a40"/>
<path d="M79.30 428.42H83.90L81.60 432.56Z" fill="#a42a40"/>
<line x1="77.40" y1="428.10" x2="86.20" y2="428.10" stroke="#000" stroke-width="1.5"/>
<line x1="81.80" y1="427.70" x2="81.80" y2="428.50" stroke="#000" stroke-width="0.9"/>
<line x1="80.00" y1="427.70" x2="83.60" y2="427.70" stroke="#000" stroke-width="0.8"/>
<line x1="80.00" y1="428.50" x2="83.60" y2="428.50" stroke="#000" stroke-width="0.8"/>
<path d="M88.90 380.63H93.50L91.20 384.77Z" fill="#3d5d8b"/>
<path d="M95.80 380.63H100.40L98.10 384.77Z" fill="#3d5d8b"/>
<path d="M92.90 385.23H97.50L95.20 389.37Z" fill="#3d5d8b"/>
<path d="M88.90 388.13H93.50L91.20 392.27Z" fill="#3d5d8b"/>
<path d="M89.90 401.33H94.50L92.20 405.47Z" fill="#3d5d8b"/>
<path d="M93.40 401.33H98.00L95.70 405.47Z" fill="#3d5d8b"/>
<path d="M90.40 407.73H95.00L92.70 411.87Z" fill="#3d5d8b"/>
<path d="M92.90 408.33H97.50L95.20 412.47Z" fill="#3d5d8b"/>
<path d="M89.44 417.28H94.04L91.74 421.42Z" fill="#3d5d8b"/>
<path d="M91.68 416.96H96.28L93.98 421.10Z" fill="#3d5d8b"/>
<path d="M94.03 417.34H98.63L96.33 421.48Z" fill="#3d5d8b"/>
<path d="M90.56 418.96H95.16L92.86 423.10Z" fill="#3d5d8b"/>
<path d="M93.02 419.22H97.62L95.32 423.36Z" fill="#3d5d8b"/>
<path d="M90.60 421.09H95.20L92.90 425.23Z" fill="#3d5d8b"/>
<path d="M93.26 420.82H97.86L95.56 424.96Z" fill="#3d5d8b"/>
<path d="M91.82 422.98H96.42L94.12 427.12Z" fill="#3d5d8b"/>
<line x1="89.80" y1="416.00" x2="98.60" y2="416.00" stroke="#000" stroke-width="1.5"/>
<line x1="94.20" y1="414.70" x2="94.20" y2="417.30" stroke="#000" stroke-width="0.9"/>
<line x1="92.40" y1="414.70" x2="96.00" y2="414.70" stroke="#000" stroke-width="0.8"/>
<line x1="92.40" y1="417.30" x2="96.00" y2="417.30" stroke="#000" stroke-width="0.8"/>
<circle cx="118.20" cy="411.00" r="2.0" fill="#a42a40"/>
<circle cx="118.20" cy="417.50" r="2.0" fill="#a42a40"/>
<circle cx="119.70" cy="420.00" r="2.0" fill="#a42a40"/>
<circle cx="116.77" cy="422.99" r="2.0" fill="#a42a40"/>
<circle cx="119.71" cy="423.04" r="2.0" fill="#a42a40"/>
<circle cx="118.04" cy="425.14" r="2.0" fill="#a42a40"/>
<circle cx="116.25" cy="426.96" r="2.0" fill="#a42a40"/>
<circle cx="119.90" cy="427.05" r="2.0" fill="#a42a40"/>
<circle cx="118.12" cy="429.09" r="2.0" fill="#a42a40"/>
<circle cx="116.99" cy="431.11" r="2.0" fill="#a42a40"/>
<circle cx="119.69" cy="431.07" r="2.0" fill="#a42a40"/>
<line x1="113.80" y1="426.20" x2="122.60" y2="426.20" stroke="#000" stroke-width="1.5"/>
<line x1="118.20" y1="425.40" x2="118.20" y2="427.00" stroke="#000" stroke-width="0.9"/>
<line x1="116.40" y1="425.40" x2="120.00" y2="425.40" stroke="#000" stroke-width="0.8"/>
<line x1="116.40" y1="427.00" x2="120.00" y2="427.00" stroke="#000" stroke-width="0.8"/>
<circle cx="127.30" cy="411.00" r="2.0" fill="#3d5d8b"/>
<circle cx="131.70" cy="411.00" r="2.0" fill="#3d5d8b"/>
<circle cx="126.61" cy="417.63" r="2.0" fill="#3d5d8b"/>
<circle cx="129.74" cy="418.07" r="2.0" fill="#3d5d8b"/>
<circle cx="132.72" cy="418.08" r="2.0" fill="#3d5d8b"/>
<circle cx="127.94" cy="420.02" r="2.0" fill="#3d5d8b"/>
<circle cx="130.76" cy="420.16" r="2.0" fill="#3d5d8b"/>
<circle cx="126.24" cy="422.01" r="2.0" fill="#3d5d8b"/>
<circle cx="129.33" cy="422.06" r="2.0" fill="#3d5d8b"/>
<circle cx="132.40" cy="422.00" r="2.0" fill="#3d5d8b"/>
<circle cx="127.78" cy="424.24" r="2.0" fill="#3d5d8b"/>
<circle cx="130.68" cy="424.37" r="2.0" fill="#3d5d8b"/>
<circle cx="127.20" cy="426.86" r="2.0" fill="#3d5d8b"/>
<circle cx="131.58" cy="426.42" r="2.0" fill="#3d5d8b"/>
<circle cx="129.35" cy="428.73" r="2.0" fill="#3d5d8b"/>
<circle cx="128.53" cy="430.77" r="2.0" fill="#3d5d8b"/>
<circle cx="130.60" cy="431.30" r="2.0" fill="#3d5d8b"/>
<line x1="125.10" y1="424.20" x2="133.90" y2="424.20" stroke="#000" stroke-width="1.5"/>
<line x1="129.50" y1="423.40" x2="129.50" y2="425.00" stroke="#000" stroke-width="0.9"/>
<line x1="127.70" y1="423.40" x2="131.30" y2="423.40" stroke="#000" stroke-width="0.8"/>
<line x1="127.70" y1="425.00" x2="131.30" y2="425.00" stroke="#000" stroke-width="0.8"/>
<path d="M138.90 408.73H143.50L141.20 412.87Z" fill="#a42a40"/>
<path d="M136.18 416.11H140.78L138.48 420.25Z" fill="#a42a40"/>
<path d="M138.65 415.88H143.25L140.95 420.02Z" fill="#a42a40"/>
<path d="M141.51 415.97H146.11L143.81 420.11Z" fill="#a42a40"/>
<path d="M137.75 417.83H142.35L140.05 421.97Z" fill="#a42a40"/>
<path d="M139.96 418.31H144.56L142.26 422.45Z" fill="#a42a40"/>
<path d="M136.22 419.75H140.82L138.52 423.89Z" fill="#a42a40"/>
<path d="M138.93 419.67H143.53L141.23 423.81Z" fill="#a42a40"/>
<path d="M141.62 420.25H146.22L143.92 424.39Z" fill="#a42a40"/>
<path d="M137.77 422.00H142.37L140.07 426.14Z" fill="#a42a40"/>
<path d="M140.11 421.80H144.71L142.41 425.94Z" fill="#a42a40"/>
<path d="M136.64 423.96H141.24L138.94 428.10Z" fill="#a42a40"/>
<path d="M138.92 423.97H143.52L141.22 428.11Z" fill="#a42a40"/>
<path d="M140.86 423.64H145.46L143.16 427.78Z" fill="#a42a40"/>
<path d="M139.09 426.01H143.69L141.39 430.15Z" fill="#a42a40"/>
<path d="M138.36 427.83H142.96L140.66 431.97Z" fill="#a42a40"/>
<path d="M139.84 427.79H144.44L142.14 431.93Z" fill="#a42a40"/>
<line x1="136.80" y1="425.20" x2="145.60" y2="425.20" stroke="#000" stroke-width="1.5"/>
<line x1="141.20" y1="424.40" x2="141.20" y2="426.00" stroke="#000" stroke-width="0.9"/>
<line x1="139.40" y1="424.40" x2="143.00" y2="424.40" stroke="#000" stroke-width="0.8"/>
<line x1="139.40" y1="426.00" x2="143.00" y2="426.00" stroke="#000" stroke-width="0.8"/>
<path d="M150.50 409.63H155.10L152.80 413.77Z" fill="#3d5d8b"/>
<path d="M147.92 416.13H152.52L150.22 420.27Z" fill="#3d5d8b"/>
<path d="M150.41 415.83H155.01L152.71 419.97Z" fill="#3d5d8b"/>
<path d="M152.63 415.98H157.23L154.93 420.12Z" fill="#3d5d8b"/>
<path d="M149.18 418.00H153.78L151.48 422.14Z" fill="#3d5d8b"/>
<path d="M151.95 417.86H156.55L154.25 422.00Z" fill="#3d5d8b"/>
<path d="M148.48 419.95H153.08L150.78 424.09Z" fill="#3d5d8b"/>
<path d="M150.77 419.58H155.37L153.07 423.72Z" fill="#3d5d8b"/>
<path d="M152.62 419.49H157.22L154.92 423.63Z" fill="#3d5d8b"/>
<path d="M149.21 421.25H153.81L151.51 425.39Z" fill="#3d5d8b"/>
<path d="M151.68 421.67H156.28L153.98 425.81Z" fill="#3d5d8b"/>
<path d="M148.90 423.19H153.50L151.20 427.33Z" fill="#3d5d8b"/>
<path d="M152.39 423.38H156.99L154.69 427.52Z" fill="#3d5d8b"/>
<path d="M150.25 425.07H154.85L152.55 429.21Z" fill="#3d5d8b"/>
<path d="M150.06 426.91H154.66L152.36 431.05Z" fill="#3d5d8b"/>
<path d="M151.34 426.73H155.94L153.64 430.87Z" fill="#3d5d8b"/>
<line x1="148.40" y1="424.70" x2="157.20" y2="424.70" stroke="#000" stroke-width="1.5"/>
<line x1="152.80" y1="423.90" x2="152.80" y2="425.50" stroke="#000" stroke-width="0.9"/>
<line x1="151.00" y1="423.90" x2="154.60" y2="423.90" stroke="#000" stroke-width="0.8"/>
<line x1="151.00" y1="425.50" x2="154.60" y2="425.50" stroke="#000" stroke-width="0.8"/>
<circle cx="175.30" cy="411.00" r="2.0" fill="#a42a40"/>
<circle cx="179.60" cy="411.00" r="2.0" fill="#a42a40"/>
<circle cx="177.50" cy="417.70" r="2.0" fill="#a42a40"/>
<circle cx="175.51" cy="422.67" r="2.0" fill="#a42a40"/>
<circle cx="179.20" cy="422.68" r="2.0" fill="#a42a40"/>
<circle cx="177.78" cy="424.49" r="2.0" fill="#a42a40"/>
<circle cx="175.64" cy="426.87" r="2.0" fill="#a42a40"/>
<circle cx="179.43" cy="426.40" r="2.0" fill="#a42a40"/>
<circle cx="177.28" cy="428.44" r="2.0" fill="#a42a40"/>
<circle cx="176.71" cy="430.88" r="2.0" fill="#a42a40"/>
<circle cx="178.32" cy="430.90" r="2.0" fill="#a42a40"/>
<line x1="173.10" y1="424.60" x2="181.90" y2="424.60" stroke="#000" stroke-width="1.5"/>
<line x1="177.50" y1="423.60" x2="177.50" y2="425.60" stroke="#000" stroke-width="0.9"/>
<line x1="175.70" y1="423.60" x2="179.30" y2="423.60" stroke="#000" stroke-width="0.8"/>
<line x1="175.70" y1="425.60" x2="179.30" y2="425.60" stroke="#000" stroke-width="0.8"/>
<circle cx="189.00" cy="390.80" r="2.0" fill="#3d5d8b"/>
<circle cx="186.40" cy="397.50" r="2.0" fill="#3d5d8b"/>
<circle cx="191.60" cy="397.50" r="2.0" fill="#3d5d8b"/>
<circle cx="187.50" cy="410.99" r="2.0" fill="#3d5d8b"/>
<circle cx="190.70" cy="410.93" r="2.0" fill="#3d5d8b"/>
<circle cx="187.43" cy="412.80" r="2.0" fill="#3d5d8b"/>
<circle cx="190.63" cy="413.18" r="2.0" fill="#3d5d8b"/>
<circle cx="186.25" cy="415.54" r="2.0" fill="#3d5d8b"/>
<circle cx="188.96" cy="415.50" r="2.0" fill="#3d5d8b"/>
<circle cx="191.96" cy="415.10" r="2.0" fill="#3d5d8b"/>
<circle cx="187.65" cy="417.34" r="2.0" fill="#3d5d8b"/>
<circle cx="190.05" cy="417.52" r="2.0" fill="#3d5d8b"/>
<circle cx="186.80" cy="419.61" r="2.0" fill="#3d5d8b"/>
<circle cx="190.83" cy="419.90" r="2.0" fill="#3d5d8b"/>
<circle cx="188.91" cy="421.82" r="2.0" fill="#3d5d8b"/>
<circle cx="187.53" cy="424.28" r="2.0" fill="#3d5d8b"/>
<circle cx="190.48" cy="424.28" r="2.0" fill="#3d5d8b"/>
<circle cx="187.51" cy="426.24" r="2.0" fill="#3d5d8b"/>
<circle cx="190.50" cy="425.93" r="2.0" fill="#3d5d8b"/>
<circle cx="186.27" cy="428.22" r="2.0" fill="#3d5d8b"/>
<circle cx="188.70" cy="428.59" r="2.0" fill="#3d5d8b"/>
<circle cx="191.50" cy="428.40" r="2.0" fill="#3d5d8b"/>
<circle cx="189.14" cy="430.63" r="2.0" fill="#3d5d8b"/>
<line x1="184.60" y1="419.10" x2="193.40" y2="419.10" stroke="#000" stroke-width="1.5"/>
<line x1="189.00" y1="417.60" x2="189.00" y2="420.60" stroke="#000" stroke-width="0.9"/>
<line x1="187.20" y1="417.60" x2="190.80" y2="417.60" stroke="#000" stroke-width="0.8"/>
<line x1="187.20" y1="420.60" x2="190.80" y2="420.60" stroke="#000" stroke-width="0.8"/>
<path d="M198.50 374.33H203.10L200.80 378.47Z" fill="#a42a40"/>
<path d="M198.50 380.93H203.10L200.80 385.07Z" fill="#a42a40"/>
<path d="M198.50 387.73H203.10L200.80 391.87Z" fill="#a42a40"/>
<path d="M198.50 394.93H203.10L200.80 399.07Z" fill="#a42a40"/>
<path d="M196.15 409.13H200.75L198.45 413.27Z" fill="#a42a40"/>
<path d="M198.53 409.29H203.13L200.83 413.43Z" fill="#a42a40"/>
<path d="M200.51 409.15H205.11L202.81 413.29Z" fill="#a42a40"/>
<path d="M197.00 410.90H201.60L199.30 415.04Z" fill="#a42a40"/>
<path d="M200.01 411.04H204.61L202.31 415.18Z" fill="#a42a40"/>
<path d="M195.84 413.12H200.44L198.14 417.26Z" fill="#a42a40"/>
<path d="M198.75 412.93H203.35L201.05 417.07Z" fill="#a42a40"/>
<path d="M201.27 412.96H205.87L203.57 417.10Z" fill="#a42a40"/>
<path d="M197.16 415.00H201.76L199.46 419.14Z" fill="#a42a40"/>
<path d="M199.82 414.90H204.42L202.12 419.04Z" fill="#a42a40"/>
<path d="M195.95 417.07H200.55L198.25 421.21Z" fill="#a42a40"/>
<path d="M198.62 417.03H203.22L200.92 421.17Z" fill="#a42a40"/>
<path d="M201.30 416.66H205.90L203.60 420.80Z" fill="#a42a40"/>
<path d="M197.44 419.00H202.04L199.74 423.14Z" fill="#a42a40"/>
<path d="M199.80 418.51H204.40L202.10 422.65Z" fill="#a42a40"/>
<path d="M196.45 420.62H201.05L198.75 424.76Z" fill="#a42a40"/>
<path d="M200.07 420.50H204.67L202.37 424.64Z" fill="#a42a40"/>
<path d="M198.24 422.68H202.84L200.54 426.82Z" fill="#a42a40"/>
<path d="M197.56 424.74H202.16L199.86 428.88Z" fill="#a42a40"/>
<path d="M199.41 424.63H204.01L201.71 428.77Z" fill="#a42a40"/>
<path d="M198.60 426.21H203.20L200.90 430.35Z" fill="#a42a40"/>
<path d="M198.73 428.63H203.33L201.03 432.77Z" fill="#a42a40"/>
<line x1="196.40" y1="419.60" x2="205.20" y2="419.60" stroke="#000" stroke-width="1.5"/>
<line x1="200.80" y1="418.10" x2="200.80" y2="421.10" stroke="#000" stroke-width="0.9"/>
<line x1="199.00" y1="418.10" x2="202.60" y2="418.10" stroke="#000" stroke-width="0.8"/>
<line x1="199.00" y1="421.10" x2="202.60" y2="421.10" stroke="#000" stroke-width="0.8"/>
<path d="M210.00 388.23H214.60L212.30 392.37Z" fill="#3d5d8b"/>
<path d="M210.00 394.93H214.60L212.30 399.07Z" fill="#3d5d8b"/>
<path d="M210.00 401.68H214.60L212.30 405.82Z" fill="#3d5d8b"/>
<path d="M210.00 408.43H214.60L212.30 412.57Z" fill="#3d5d8b"/>
<path d="M207.50 414.13H212.10L209.80 418.27Z" fill="#3d5d8b"/>
<path d="M212.50 414.13H217.10L214.80 418.27Z" fill="#3d5d8b"/>
<path d="M207.65 418.39H212.25L209.95 422.53Z" fill="#3d5d8b"/>
<path d="M209.94 418.11H214.54L212.24 422.25Z" fill="#3d5d8b"/>
<path d="M212.48 418.31H217.08L214.78 422.45Z" fill="#3d5d8b"/>
<path d="M208.52 419.74H213.12L210.82 423.88Z" fill="#3d5d8b"/>
<path d="M211.29 419.68H215.89L213.59 423.82Z" fill="#3d5d8b"/>
<path d="M207.45 421.34H212.05L209.75 425.48Z" fill="#3d5d8b"/>
<path d="M210.13 421.16H214.73L212.43 425.30Z" fill="#3d5d8b"/>
<path d="M212.40 421.41H217.00L214.70 425.55Z" fill="#3d5d8b"/>
<path d="M209.71 423.01H214.31L212.01 427.15Z" fill="#3d5d8b"/>
<path d="M208.81 424.79H213.41L211.11 428.93Z" fill="#3d5d8b"/>
<path d="M211.01 425.07H215.61L213.31 429.21Z" fill="#3d5d8b"/>
<path d="M210.17 426.73H214.77L212.47 430.87Z" fill="#3d5d8b"/>
<line x1="207.90" y1="420.80" x2="216.70" y2="420.80" stroke="#000" stroke-width="1.5"/>
<line x1="212.30" y1="419.60" x2="212.30" y2="422.00" stroke="#000" stroke-width="0.9"/>
<line x1="210.50" y1="419.60" x2="214.10" y2="419.60" stroke="#000" stroke-width="0.8"/>
<line x1="210.50" y1="422.00" x2="214.10" y2="422.00" stroke="#000" stroke-width="0.8"/>
<path d="M58.00 380.50V378.30H70.60V380.50" fill="none" stroke="#231f20" stroke-width="0.9"/>
<text x="61.80" y="376.30" font-size="6.6" text-anchor="middle" textLength="24.00" lengthAdjust="spacingAndGlyphs">P&lt;0.0001</text>
<path d="M81.30 380.50V378.30H93.40V380.50" fill="none" stroke="#231f20" stroke-width="0.9"/>
<text x="91.45" y="376.30" font-size="6.6" text-anchor="middle" textLength="22.50" lengthAdjust="spacingAndGlyphs">P&lt;0.0001</text>
<path d="M117.90 380.20V378.00H130.20V380.20" fill="none" stroke="#231f20" stroke-width="0.9"/>
<text x="123.85" y="376.40" font-size="6.6" text-anchor="middle" textLength="18.10" lengthAdjust="spacingAndGlyphs">P=0.03</text>
<path d="M177.50 380.80V378.60H189.80V380.80" fill="none" stroke="#231f20" stroke-width="0.9"/>
<text x="183.30" y="376.40" font-size="6.6" text-anchor="middle" textLength="19.00" lengthAdjust="spacingAndGlyphs">P=0.04</text>
<path d="M81.30 368.30V366.10H141.40V368.30" fill="none" stroke="#231f20" stroke-width="0.9"/>
<text x="111.00" y="363.80" font-size="6.6" text-anchor="middle" textLength="22.50" lengthAdjust="spacingAndGlyphs">P=0.0006</text>
<path d="M81.30 358.40V356.20H201.30V358.40" fill="none" stroke="#231f20" stroke-width="0.9"/>
<text x="141.40" y="354.30" font-size="6.6" text-anchor="middle" textLength="22.50" lengthAdjust="spacingAndGlyphs">P=0.0009</text>
<text x="235.20" y="322.20" font-size="10.5">H</text>
<line x1="281.20" y1="326.90" x2="281.20" y2="432.00" stroke="#231f20" stroke-width="1.45"/>
<line x1="280.50" y1="431.30" x2="467.40" y2="431.30" stroke="#231f20" stroke-width="1.45"/>
<line x1="278.20" y1="431.30" x2="281.20" y2="431.30" stroke="#231f20" stroke-width="1.0"/>
<text x="275.00" y="434.28" font-size="6.6" text-anchor="end">0</text>
<line x1="278.20" y1="414.38" x2="281.20" y2="414.38" stroke="#231f20" stroke-width="1.0"/>
<text x="275.00" y="417.36" font-size="6.6" text-anchor="end">2000</text>
<line x1="278.20" y1="397.47" x2="281.20" y2="397.47" stroke="#231f20" stroke-width="1.0"/>
<text x="275.00" y="400.44" font-size="6.6" text-anchor="end">4000</text>
<line x1="278.20" y1="380.55" x2="281.20" y2="380.55" stroke="#231f20" stroke-width="1.0"/>
<text x="275.00" y="383.53" font-size="6.6" text-anchor="end">6000</text>
<line x1="278.20" y1="363.64" x2="281.20" y2="363.64" stroke="#231f20" stroke-width="1.0"/>
<text x="275.00" y="366.61" font-size="6.6" text-anchor="end">8000</text>
<line x1="278.20" y1="346.72" x2="281.20" y2="346.72" stroke="#231f20" stroke-width="1.0"/>
<text x="275.00" y="349.70" font-size="6.6" text-anchor="end">10000</text>
<line x1="278.20" y1="329.80" x2="281.20" y2="329.80" stroke="#231f20" stroke-width="1.0"/>
<text x="275.00" y="332.78" font-size="6.6" text-anchor="end">12000</text>
<line x1="312.10" y1="431.30" x2="312.10" y2="434.30" stroke="#231f20" stroke-width="1.0"/>
<text x="312.10" y="443.50" font-size="6.6" text-anchor="middle">-14D</text>
<line x1="373.80" y1="431.30" x2="373.80" y2="434.30" stroke="#231f20" stroke-width="1.0"/>
<text x="373.80" y="443.50" font-size="6.6" text-anchor="middle">+1M</text>
<line x1="436.30" y1="431.30" x2="436.30" y2="434.30" stroke="#231f20" stroke-width="1.0"/>
<text x="436.30" y="443.50" font-size="6.6" text-anchor="middle">+2M</text>
<text x="250.60" y="379.20" font-size="8.6" text-anchor="middle" textLength="63.20" lengthAdjust="spacingAndGlyphs" transform="rotate(-90 250.60 379.20)" class="t">EC ROS level(MFI)</text>
<circle cx="348.00" cy="329.50" r="2.0" fill="#a42a40"/>
<text x="354.20" y="331.40" font-size="5.4" textLength="24.50" lengthAdjust="spacingAndGlyphs" fill="#555">1-EC&lt;0.1%</text>
<circle cx="348.00" cy="338.80" r="2.0" fill="#3d5d8b"/>
<text x="354.20" y="340.70" font-size="5.4" textLength="24.50" lengthAdjust="spacingAndGlyphs" fill="#555">1-EC≥0.1%</text>
<path d="M392.10 327.52H396.50L394.30 331.48Z" fill="#a42a40"/>
<text x="400.50" y="331.40" font-size="5.4" textLength="37.50" lengthAdjust="spacingAndGlyphs" fill="#555">2-EC&lt;0.1%+NAC</text>
<path d="M392.10 336.82H396.50L394.30 340.78Z" fill="#3d5d8b"/>
<text x="400.50" y="340.70" font-size="5.4" textLength="24.50" lengthAdjust="spacingAndGlyphs" fill="#555">2-EC≥0.1%</text>
<circle cx="302.50" cy="451.40" r="1.9" fill="#a42a40"/>
<text x="307.40" y="453.75" font-size="6.6" textLength="14.80" lengthAdjust="spacingAndGlyphs">N=30</text>
<circle cx="302.50" cy="458.10" r="1.9" fill="#3d5d8b"/>
<text x="307.40" y="460.45" font-size="6.6" textLength="14.80" lengthAdjust="spacingAndGlyphs">N=38</text>
<path d="M300.40 462.91H304.60L302.50 466.69Z" fill="#a42a40"/>
<text x="307.40" y="467.15" font-size="6.6" textLength="14.80" lengthAdjust="spacingAndGlyphs">N=35</text>
<path d="M300.40 469.71H304.60L302.50 473.49Z" fill="#3d5d8b"/>
<text x="307.40" y="473.95" font-size="6.6" textLength="14.80" lengthAdjust="spacingAndGlyphs">N=39</text>
<circle cx="364.20" cy="451.40" r="1.9" fill="#a42a40"/>
<text x="369.10" y="453.75" font-size="6.6" textLength="14.80" lengthAdjust="spacingAndGlyphs">N=30</text>
<circle cx="364.20" cy="458.10" r="1.9" fill="#3d5d8b"/>
<text x="369.10" y="460.45" font-size="6.6" textLength="14.80" lengthAdjust="spacingAndGlyphs">N=38</text>
<path d="M362.10 462.91H366.30L364.20 466.69Z" fill="#a42a40"/>
<text x="369.10" y="467.15" font-size="6.6" textLength="14.80" lengthAdjust="spacingAndGlyphs">N=34</text>
<path d="M362.10 469.71H366.30L364.20 473.49Z" fill="#3d5d8b"/>
<text x="369.10" y="473.95" font-size="6.6" textLength="14.80" lengthAdjust="spacingAndGlyphs">N=22</text>
<circle cx="426.70" cy="451.40" r="1.9" fill="#a42a40"/>
<text x="431.60" y="453.75" font-size="6.6" textLength="14.80" lengthAdjust="spacingAndGlyphs">N=17</text>
<circle cx="426.70" cy="458.10" r="1.9" fill="#3d5d8b"/>
<text x="431.60" y="460.45" font-size="6.6" textLength="14.80" lengthAdjust="spacingAndGlyphs">N=38</text>
<path d="M424.60 462.91H428.80L426.70 466.69Z" fill="#a42a40"/>
<text x="431.60" y="467.15" font-size="6.6" textLength="14.80" lengthAdjust="spacingAndGlyphs">N=34</text>
<path d="M424.60 469.71H428.80L426.70 473.49Z" fill="#3d5d8b"/>
<text x="431.60" y="473.95" font-size="6.6" textLength="14.80" lengthAdjust="spacingAndGlyphs">N=22</text>
<circle cx="291.28" cy="401.46" r="2.0" fill="#a42a40"/>
<circle cx="293.72" cy="401.77" r="2.0" fill="#a42a40"/>
<circle cx="296.35" cy="401.38" r="2.0" fill="#a42a40"/>
<circle cx="292.55" cy="403.95" r="2.0" fill="#a42a40"/>
<circle cx="295.59" cy="403.56" r="2.0" fill="#a42a40"/>
<circle cx="290.99" cy="406.05" r="2.0" fill="#a42a40"/>
<circle cx="294.04" cy="405.92" r="2.0" fill="#a42a40"/>
<circle cx="296.55" cy="405.53" r="2.0" fill="#a42a40"/>
<circle cx="292.71" cy="407.86" r="2.0" fill="#a42a40"/>
<circle cx="295.14" cy="408.16" r="2.0" fill="#a42a40"/>
<circle cx="291.28" cy="410.18" r="2.0" fill="#a42a40"/>
<circle cx="293.75" cy="410.21" r="2.0" fill="#a42a40"/>
<circle cx="296.54" cy="410.22" r="2.0" fill="#a42a40"/>
<circle cx="293.97" cy="412.00" r="2.0" fill="#a42a40"/>
<circle cx="293.03" cy="414.46" r="2.0" fill="#a42a40"/>
<circle cx="294.86" cy="413.98" r="2.0" fill="#a42a40"/>
<circle cx="294.02" cy="416.14" r="2.0" fill="#a42a40"/>
<circle cx="292.77" cy="418.20" r="2.0" fill="#a42a40"/>
<circle cx="294.73" cy="418.22" r="2.0" fill="#a42a40"/>
<circle cx="293.89" cy="420.38" r="2.0" fill="#a42a40"/>
<line x1="289.60" y1="410.30" x2="298.40" y2="410.30" stroke="#000" stroke-width="1.5"/>
<line x1="294.00" y1="409.30" x2="294.00" y2="411.30" stroke="#000" stroke-width="0.9"/>
<line x1="292.20" y1="409.30" x2="295.80" y2="409.30" stroke="#000" stroke-width="0.8"/>
<line x1="292.20" y1="411.30" x2="295.80" y2="411.30" stroke="#000" stroke-width="0.8"/>
<circle cx="306.20" cy="397.60" r="2.0" fill="#3d5d8b"/>
<circle cx="304.00" cy="400.80" r="2.0" fill="#3d5d8b"/>
<circle cx="303.56" cy="407.27" r="2.0" fill="#3d5d8b"/>
<circle cx="306.20" cy="407.21" r="2.0" fill="#3d5d8b"/>
<circle cx="308.91" cy="407.11" r="2.0" fill="#3d5d8b"/>
<circle cx="304.65" cy="409.22" r="2.0" fill="#3d5d8b"/>
<circle cx="307.74" cy="409.54" r="2.0" fill="#3d5d8b"/>
<circle cx="303.21" cy="411.61" r="2.0" fill="#3d5d8b"/>
<circle cx="306.46" cy="411.39" r="2.0" fill="#3d5d8b"/>
<circle cx="309.19" cy="411.58" r="2.0" fill="#3d5d8b"/>
<circle cx="304.80" cy="413.93" r="2.0" fill="#3d5d8b"/>
<circle cx="307.54" cy="413.74" r="2.0" fill="#3d5d8b"/>
<circle cx="303.73" cy="416.13" r="2.0" fill="#3d5d8b"/>
<circle cx="306.11" cy="416.04" r="2.0" fill="#3d5d8b"/>
<circle cx="308.90" cy="415.93" r="2.0" fill="#3d5d8b"/>
<circle cx="306.14" cy="417.86" r="2.0" fill="#3d5d8b"/>
<circle cx="304.44" cy="419.84" r="2.0" fill="#3d5d8b"/>
<circle cx="307.44" cy="420.21" r="2.0" fill="#3d5d8b"/>
<circle cx="306.05" cy="421.98" r="2.0" fill="#3d5d8b"/>
<circle cx="304.71" cy="424.49" r="2.0" fill="#3d5d8b"/>
<circle cx="307.66" cy="424.39" r="2.0" fill="#3d5d8b"/>
<circle cx="306.07" cy="426.25" r="2.0" fill="#3d5d8b"/>
<line x1="301.80" y1="415.00" x2="310.60" y2="415.00" stroke="#000" stroke-width="1.5"/>
<line x1="306.20" y1="414.00" x2="306.20" y2="416.00" stroke="#000" stroke-width="0.9"/>
<line x1="304.40" y1="414.00" x2="308.00" y2="414.00" stroke="#000" stroke-width="0.8"/>
<line x1="304.40" y1="416.00" x2="308.00" y2="416.00" stroke="#000" stroke-width="0.8"/>
<path d="M316.00 380.13H320.60L318.30 384.27Z" fill="#a42a40"/>
<path d="M313.90 385.93H318.50L316.20 390.07Z" fill="#a42a40"/>
<path d="M318.10 388.43H322.70L320.40 392.57Z" fill="#a42a40"/>
<path d="M312.90 391.23H317.50L315.20 395.37Z" fill="#a42a40"/>
<path d="M319.20 391.23H323.80L321.50 395.37Z" fill="#a42a40"/>
<path d="M313.68 397.69H318.28L315.98 401.83Z" fill="#a42a40"/>
<path d="M315.79 397.68H320.39L318.09 401.82Z" fill="#a42a40"/>
<path d="M318.06 397.99H322.66L320.36 402.13Z" fill="#a42a40"/>
<path d="M315.18 399.62H319.78L317.48 403.76Z" fill="#a42a40"/>
<path d="M316.95 399.88H321.55L319.25 404.02Z" fill="#a42a40"/>
<path d="M313.69 401.39H318.29L315.99 405.53Z" fill="#a42a40"/>
<path d="M315.70 401.41H320.30L318.00 405.55Z" fill="#a42a40"/>
<path d="M318.18 401.48H322.78L320.48 405.62Z" fill="#a42a40"/>
<path d="M314.72 403.36H319.32L317.02 407.50Z" fill="#a42a40"/>
<path d="M316.80 403.22H321.40L319.10 407.36Z" fill="#a42a40"/>
<path d="M313.55 405.18H318.15L315.85 409.32Z" fill="#a42a40"/>
<path d="M315.73 404.95H320.33L318.03 409.09Z" fill="#a42a40"/>
<path d="M318.08 405.08H322.68L320.38 409.22Z" fill="#a42a40"/>
<path d="M314.95 407.14H319.55L317.25 411.28Z" fill="#a42a40"/>
<path d="M317.25 407.21H321.85L319.55 411.35Z" fill="#a42a40"/>
<path d="M314.04 409.23H318.64L316.34 413.37Z" fill="#a42a40"/>
<path d="M315.93 408.89H320.53L318.23 413.03Z" fill="#a42a40"/>
<path d="M318.38 408.79H322.98L320.68 412.93Z" fill="#a42a40"/>
<path d="M316.13 410.97H320.73L318.43 415.11Z" fill="#a42a40"/>
<path d="M314.01 412.96H318.61L316.31 417.10Z" fill="#a42a40"/>
<path d="M317.95 412.84H322.55L320.25 416.98Z" fill="#a42a40"/>
<path d="M316.14 414.83H320.74L318.44 418.97Z" fill="#a42a40"/>
<path d="M314.44 416.54H319.04L316.74 420.68Z" fill="#a42a40"/>
<path d="M317.34 416.72H321.94L319.64 420.86Z" fill="#a42a40"/>
<path d="M316.18 418.60H320.78L318.48 422.74Z" fill="#a42a40"/>
<path d="M315.19 420.52H319.79L317.49 424.66Z" fill="#a42a40"/>
<path d="M316.97 420.40H321.57L319.27 424.54Z" fill="#a42a40"/>
<path d="M315.84 421.88H320.44L318.14 426.02Z" fill="#a42a40"/>
<path d="M315.78 423.96H320.38L318.08 428.10Z" fill="#a42a40"/>
<line x1="313.90" y1="409.20" x2="322.70" y2="409.20" stroke="#000" stroke-width="1.5"/>
<line x1="318.30" y1="407.70" x2="318.30" y2="410.70" stroke="#000" stroke-width="0.9"/>
<line x1="316.50" y1="407.70" x2="320.10" y2="407.70" stroke="#000" stroke-width="0.8"/>
<line x1="316.50" y1="410.70" x2="320.10" y2="410.70" stroke="#000" stroke-width="0.8"/>
<path d="M325.26 396.82H329.86L327.56 400.96Z" fill="#3d5d8b"/>
<path d="M328.24 396.69H332.84L330.54 400.83Z" fill="#3d5d8b"/>
<path d="M330.98 396.72H335.58L333.28 400.86Z" fill="#3d5d8b"/>
<path d="M326.84 398.23H331.44L329.14 402.37Z" fill="#3d5d8b"/>
<path d="M329.73 398.68H334.33L332.03 402.82Z" fill="#3d5d8b"/>
<path d="M325.50 400.47H330.10L327.80 404.61Z" fill="#3d5d8b"/>
<path d="M328.30 400.19H332.90L330.60 404.33Z" fill="#3d5d8b"/>
<path d="M331.04 400.30H335.64L333.34 404.44Z" fill="#3d5d8b"/>
<path d="M326.59 402.22H331.19L328.89 406.36Z" fill="#3d5d8b"/>
<path d="M329.69 402.19H334.29L331.99 406.33Z" fill="#3d5d8b"/>
<path d="M325.64 404.57H330.24L327.94 408.71Z" fill="#3d5d8b"/>
<path d="M328.20 404.21H332.80L330.50 408.35Z" fill="#3d5d8b"/>
<path d="M330.89 404.39H335.49L333.19 408.53Z" fill="#3d5d8b"/>
<path d="M327.01 406.27H331.61L329.31 410.41Z" fill="#3d5d8b"/>
<path d="M329.64 405.94H334.24L331.94 410.08Z" fill="#3d5d8b"/>
<path d="M325.29 407.97H329.89L327.59 412.11Z" fill="#3d5d8b"/>
<path d="M328.35 408.00H332.95L330.65 412.14Z" fill="#3d5d8b"/>
<path d="M330.94 407.82H335.54L333.24 411.96Z" fill="#3d5d8b"/>
<path d="M326.59 409.89H331.19L328.89 414.03Z" fill="#3d5d8b"/>
<path d="M329.65 410.15H334.25L331.95 414.29Z" fill="#3d5d8b"/>
<path d="M325.86 411.82H330.46L328.16 415.96Z" fill="#3d5d8b"/>
<path d="M328.21 411.93H332.81L330.51 416.07Z" fill="#3d5d8b"/>
<path d="M330.63 411.72H335.23L332.93 415.86Z" fill="#3d5d8b"/>
<path d="M327.33 413.68H331.93L329.63 417.82Z" fill="#3d5d8b"/>
<path d="M329.59 414.12H334.19L331.89 418.26Z" fill="#3d5d8b"/>
<path d="M325.94 415.75H330.54L328.24 419.89Z" fill="#3d5d8b"/>
<path d="M330.36 416.06H334.96L332.66 420.20Z" fill="#3d5d8b"/>
<path d="M328.17 417.56H332.77L330.47 421.70Z" fill="#3d5d8b"/>
<path d="M326.70 419.88H331.30L329.00 424.02Z" fill="#3d5d8b"/>
<path d="M329.36 419.66H333.96L331.66 423.80Z" fill="#3d5d8b"/>
<path d="M327.99 421.54H332.59L330.29 425.68Z" fill="#3d5d8b"/>
<path d="M328.47 423.22H333.07L330.77 427.36Z" fill="#3d5d8b"/>
<line x1="326.10" y1="414.80" x2="334.90" y2="414.80" stroke="#000" stroke-width="1.5"/>
<line x1="330.50" y1="413.80" x2="330.50" y2="415.80" stroke="#000" stroke-width="0.9"/>
<line x1="328.70" y1="413.80" x2="332.30" y2="413.80" stroke="#000" stroke-width="0.8"/>
<line x1="328.70" y1="415.80" x2="332.30" y2="415.80" stroke="#000" stroke-width="0.8"/>
<circle cx="355.90" cy="383.80" r="2.0" fill="#a42a40"/>
<circle cx="353.99" cy="393.11" r="2.0" fill="#a42a40"/>
<circle cx="358.23" cy="393.22" r="2.0" fill="#a42a40"/>
<circle cx="355.74" cy="395.57" r="2.0" fill="#a42a40"/>
<circle cx="354.75" cy="397.28" r="2.0" fill="#a42a40"/>
<circle cx="356.75" cy="397.56" r="2.0" fill="#a42a40"/>
<circle cx="355.87" cy="399.67" r="2.0" fill="#a42a40"/>
<circle cx="353.18" cy="401.93" r="2.0" fill="#a42a40"/>
<circle cx="355.79" cy="402.23" r="2.0" fill="#a42a40"/>
<circle cx="358.10" cy="402.17" r="2.0" fill="#a42a40"/>
<circle cx="354.85" cy="404.03" r="2.0" fill="#a42a40"/>
<circle cx="357.41" cy="404.38" r="2.0" fill="#a42a40"/>
<circle cx="353.64" cy="406.36" r="2.0" fill="#a42a40"/>
<circle cx="355.82" cy="406.42" r="2.0" fill="#a42a40"/>
<circle cx="358.70" cy="406.54" r="2.0" fill="#a42a40"/>
<circle cx="354.57" cy="408.67" r="2.0" fill="#a42a40"/>
<circle cx="357.02" cy="408.44" r="2.0" fill="#a42a40"/>
<circle cx="353.16" cy="411.15" r="2.0" fill="#a42a40"/>
<circle cx="355.77" cy="411.21" r="2.0" fill="#a42a40"/>
<circle cx="358.25" cy="410.81" r="2.0" fill="#a42a40"/>
<circle cx="354.66" cy="412.99" r="2.0" fill="#a42a40"/>
<circle cx="357.07" cy="413.45" r="2.0" fill="#a42a40"/>
<circle cx="353.63" cy="415.59" r="2.0" fill="#a42a40"/>
<circle cx="355.98" cy="415.66" r="2.0" fill="#a42a40"/>
<circle cx="358.66" cy="415.44" r="2.0" fill="#a42a40"/>
<circle cx="354.78" cy="417.37" r="2.0" fill="#a42a40"/>
<circle cx="357.29" cy="417.61" r="2.0" fill="#a42a40"/>
<circle cx="354.17" cy="419.96" r="2.0" fill="#a42a40"/>
<circle cx="357.65" cy="419.60" r="2.0" fill="#a42a40"/>
<circle cx="356.16" cy="421.88" r="2.0" fill="#a42a40"/>
<line x1="351.50" y1="407.60" x2="360.30" y2="407.60" stroke="#000" stroke-width="1.5"/>
<line x1="355.90" y1="406.40" x2="355.90" y2="408.80" stroke="#000" stroke-width="0.9"/>
<line x1="354.10" y1="406.40" x2="357.70" y2="406.40" stroke="#000" stroke-width="0.8"/>
<line x1="354.10" y1="408.80" x2="357.70" y2="408.80" stroke="#000" stroke-width="0.8"/>
<circle cx="363.70" cy="398.60" r="2.0" fill="#3d5d8b"/>
<circle cx="370.20" cy="398.60" r="2.0" fill="#3d5d8b"/>
<circle cx="366.00" cy="401.80" r="2.0" fill="#3d5d8b"/>
<circle cx="367.33" cy="406.31" r="2.0" fill="#3d5d8b"/>
<circle cx="368.73" cy="406.54" r="2.0" fill="#3d5d8b"/>
<circle cx="368.39" cy="408.30" r="2.0" fill="#3d5d8b"/>
<circle cx="366.90" cy="410.37" r="2.0" fill="#3d5d8b"/>
<circle cx="369.43" cy="410.43" r="2.0" fill="#3d5d8b"/>
<circle cx="367.90" cy="412.33" r="2.0" fill="#3d5d8b"/>
<circle cx="365.83" cy="414.82" r="2.0" fill="#3d5d8b"/>
<circle cx="370.19" cy="414.41" r="2.0" fill="#3d5d8b"/>
<circle cx="367.13" cy="416.92" r="2.0" fill="#3d5d8b"/>
<circle cx="369.29" cy="416.41" r="2.0" fill="#3d5d8b"/>
<circle cx="365.14" cy="418.42" r="2.0" fill="#3d5d8b"/>
<circle cx="368.01" cy="418.42" r="2.0" fill="#3d5d8b"/>
<circle cx="370.72" cy="418.52" r="2.0" fill="#3d5d8b"/>
<circle cx="366.64" cy="420.94" r="2.0" fill="#3d5d8b"/>
<circle cx="369.75" cy="420.66" r="2.0" fill="#3d5d8b"/>
<circle cx="365.05" cy="422.77" r="2.0" fill="#3d5d8b"/>
<circle cx="368.03" cy="422.66" r="2.0" fill="#3d5d8b"/>
<circle cx="370.84" cy="422.62" r="2.0" fill="#3d5d8b"/>
<circle cx="367.25" cy="424.58" r="2.0" fill="#3d5d8b"/>
<circle cx="369.23" cy="424.88" r="2.0" fill="#3d5d8b"/>
<line x1="363.70" y1="414.50" x2="372.50" y2="414.50" stroke="#000" stroke-width="1.5"/>
<line x1="368.10" y1="413.50" x2="368.10" y2="415.50" stroke="#000" stroke-width="0.9"/>
<line x1="366.30" y1="413.50" x2="369.90" y2="413.50" stroke="#000" stroke-width="0.8"/>
<line x1="366.30" y1="415.50" x2="369.90" y2="415.50" stroke="#000" stroke-width="0.8"/>
<path d="M378.00 386.53H382.60L380.30 390.67Z" fill="#a42a40"/>
<path d="M380.10 391.83H384.70L382.40 395.97Z" fill="#a42a40"/>
<path d="M375.92 398.54H380.52L378.22 402.68Z" fill="#a42a40"/>
<path d="M377.86 398.56H382.46L380.16 402.70Z" fill="#a42a40"/>
<path d="M380.24 398.68H384.84L382.54 402.82Z" fill="#a42a40"/>
<path d="M377.12 400.85H381.72L379.42 404.99Z" fill="#a42a40"/>
<path d="M379.37 400.35H383.97L381.67 404.49Z" fill="#a42a40"/>
<path d="M375.42 402.69H380.02L377.72 406.83Z" fill="#a42a40"/>
<path d="M378.24 402.55H382.84L380.54 406.69Z" fill="#a42a40"/>
<path d="M380.35 402.26H384.95L382.65 406.40Z" fill="#a42a40"/>
<path d="M376.78 404.74H381.38L379.08 408.88Z" fill="#a42a40"/>
<path d="M379.35 404.70H383.95L381.65 408.84Z" fill="#a42a40"/>
<path d="M375.98 406.26H380.58L378.28 410.40Z" fill="#a42a40"/>
<path d="M377.77 406.20H382.37L380.07 410.34Z" fill="#a42a40"/>
<path d="M380.31 406.52H384.91L382.61 410.66Z" fill="#a42a40"/>
<path d="M377.11 408.47H381.71L379.41 412.61Z" fill="#a42a40"/>
<path d="M379.24 408.49H383.84L381.54 412.63Z" fill="#a42a40"/>
<path d="M375.67 410.29H380.27L377.97 414.43Z" fill="#a42a40"/>
<path d="M377.72 410.43H382.32L380.02 414.57Z" fill="#a42a40"/>
<path d="M380.14 410.51H384.74L382.44 414.65Z" fill="#a42a40"/>
<path d="M376.94 412.06H381.54L379.24 416.20Z" fill="#a42a40"/>
<path d="M378.93 412.03H383.53L381.23 416.17Z" fill="#a42a40"/>
<path d="M375.78 414.22H380.38L378.08 418.36Z" fill="#a42a40"/>
<path d="M377.77 413.85H382.37L380.07 417.99Z" fill="#a42a40"/>
<path d="M380.31 414.15H384.91L382.61 418.29Z" fill="#a42a40"/>
<path d="M376.79 415.86H381.39L379.09 420.00Z" fill="#a42a40"/>
<path d="M379.20 415.73H383.80L381.50 419.87Z" fill="#a42a40"/>
<path d="M375.97 417.93H380.57L378.27 422.07Z" fill="#a42a40"/>
<path d="M380.18 418.04H384.78L382.48 422.18Z" fill="#a42a40"/>
<path d="M378.23 419.86H382.83L380.53 424.00Z" fill="#a42a40"/>
<path d="M376.67 421.65H381.27L378.97 425.79Z" fill="#a42a40"/>
<path d="M379.44 421.92H384.04L381.74 426.06Z" fill="#a42a40"/>
<path d="M377.88 423.43H382.48L380.18 427.57Z" fill="#a42a40"/>
<path d="M378.00 425.75H382.60L380.30 429.89Z" fill="#a42a40"/>
<line x1="375.90" y1="413.40" x2="384.70" y2="413.40" stroke="#000" stroke-width="1.5"/>
<line x1="380.30" y1="412.20" x2="380.30" y2="414.60" stroke="#000" stroke-width="0.9"/>
<line x1="378.50" y1="412.20" x2="382.10" y2="412.20" stroke="#000" stroke-width="0.8"/>
<line x1="378.50" y1="414.60" x2="382.10" y2="414.60" stroke="#000" stroke-width="0.8"/>
<path d="M390.10 390.23H394.70L392.40 394.37Z" fill="#3d5d8b"/>
<path d="M388.78 399.67H393.38L391.08 403.81Z" fill="#3d5d8b"/>
<path d="M391.47 400.07H396.07L393.77 404.21Z" fill="#3d5d8b"/>
<path d="M389.94 401.42H394.54L392.24 405.56Z" fill="#3d5d8b"/>
<path d="M388.61 403.54H393.21L390.91 407.68Z" fill="#3d5d8b"/>
<path d="M391.60 403.41H396.20L393.90 407.55Z" fill="#3d5d8b"/>
<path d="M390.28 405.62H394.88L392.58 409.76Z" fill="#3d5d8b"/>
<path d="M388.59 407.18H393.19L390.89 411.32Z" fill="#3d5d8b"/>
<path d="M391.90 407.25H396.50L394.20 411.39Z" fill="#3d5d8b"/>
<path d="M390.29 409.08H394.89L392.59 413.22Z" fill="#3d5d8b"/>
<path d="M388.29 411.29H392.89L390.59 415.43Z" fill="#3d5d8b"/>
<path d="M391.62 411.40H396.22L393.92 415.54Z" fill="#3d5d8b"/>
<path d="M390.10 412.83H394.70L392.40 416.97Z" fill="#3d5d8b"/>
<path d="M387.84 414.85H392.44L390.14 418.99Z" fill="#3d5d8b"/>
<path d="M390.20 415.17H394.80L392.50 419.31Z" fill="#3d5d8b"/>
<path d="M391.98 414.84H396.58L394.28 418.98Z" fill="#3d5d8b"/>
<path d="M388.69 417.07H393.29L390.99 421.21Z" fill="#3d5d8b"/>
<path d="M391.12 416.52H395.72L393.42 420.66Z" fill="#3d5d8b"/>
<path d="M387.44 418.61H392.04L389.74 422.75Z" fill="#3d5d8b"/>
<path d="M390.34 418.90H394.94L392.64 423.04Z" fill="#3d5d8b"/>
<path d="M392.64 418.97H397.24L394.94 423.11Z" fill="#3d5d8b"/>
<path d="M390.36 420.46H394.96L392.66 424.60Z" fill="#3d5d8b"/>
<path d="M389.03 422.71H393.63L391.33 426.85Z" fill="#3d5d8b"/>
<path d="M391.13 422.16H395.73L393.43 426.30Z" fill="#3d5d8b"/>
<line x1="388.00" y1="412.70" x2="396.80" y2="412.70" stroke="#000" stroke-width="1.5"/>
<line x1="392.40" y1="411.50" x2="392.40" y2="413.90" stroke="#000" stroke-width="0.9"/>
<line x1="390.60" y1="411.50" x2="394.20" y2="411.50" stroke="#000" stroke-width="0.8"/>
<line x1="390.60" y1="413.90" x2="394.20" y2="413.90" stroke="#000" stroke-width="0.8"/>
<circle cx="416.60" cy="397.40" r="2.0" fill="#a42a40"/>
<circle cx="418.50" cy="400.60" r="2.0" fill="#a42a40"/>
<circle cx="419.70" cy="401.60" r="2.0" fill="#a42a40"/>
<circle cx="416.50" cy="407.73" r="2.0" fill="#a42a40"/>
<circle cx="419.32" cy="407.70" r="2.0" fill="#a42a40"/>
<circle cx="417.70" cy="409.70" r="2.0" fill="#a42a40"/>
<circle cx="416.27" cy="412.11" r="2.0" fill="#a42a40"/>
<circle cx="419.67" cy="411.97" r="2.0" fill="#a42a40"/>
<circle cx="418.18" cy="414.22" r="2.0" fill="#a42a40"/>
<circle cx="416.31" cy="416.79" r="2.0" fill="#a42a40"/>
<circle cx="419.59" cy="416.56" r="2.0" fill="#a42a40"/>
<circle cx="417.63" cy="418.78" r="2.0" fill="#a42a40"/>
<line x1="413.50" y1="411.70" x2="422.30" y2="411.70" stroke="#000" stroke-width="1.5"/>
<line x1="417.90" y1="410.70" x2="417.90" y2="412.70" stroke="#000" stroke-width="0.9"/>
<line x1="416.10" y1="410.70" x2="419.70" y2="410.70" stroke="#000" stroke-width="0.8"/>
<line x1="416.10" y1="412.70" x2="419.70" y2="412.70" stroke="#000" stroke-width="0.8"/>
<circle cx="427.02" cy="406.95" r="2.0" fill="#3d5d8b"/>
<circle cx="429.92" cy="406.62" r="2.0" fill="#3d5d8b"/>
<circle cx="433.34" cy="406.42" r="2.0" fill="#3d5d8b"/>
<circle cx="428.55" cy="409.10" r="2.0" fill="#3d5d8b"/>
<circle cx="431.76" cy="408.63" r="2.0" fill="#3d5d8b"/>
<circle cx="427.38" cy="410.86" r="2.0" fill="#3d5d8b"/>
<circle cx="430.35" cy="410.97" r="2.0" fill="#3d5d8b"/>
<circle cx="432.69" cy="411.36" r="2.0" fill="#3d5d8b"/>
<circle cx="430.00" cy="413.19" r="2.0" fill="#3d5d8b"/>
<circle cx="428.15" cy="415.61" r="2.0" fill="#3d5d8b"/>
<circle cx="432.18" cy="415.67" r="2.0" fill="#3d5d8b"/>
<circle cx="428.81" cy="417.62" r="2.0" fill="#3d5d8b"/>
<circle cx="430.98" cy="417.90" r="2.0" fill="#3d5d8b"/>
<circle cx="427.85" cy="420.04" r="2.0" fill="#3d5d8b"/>
<circle cx="430.37" cy="419.67" r="2.0" fill="#3d5d8b"/>
<circle cx="432.44" cy="419.95" r="2.0" fill="#3d5d8b"/>
<circle cx="429.12" cy="422.44" r="2.0" fill="#3d5d8b"/>
<circle cx="431.28" cy="422.02" r="2.0" fill="#3d5d8b"/>
<circle cx="427.56" cy="424.38" r="2.0" fill="#3d5d8b"/>
<circle cx="430.36" cy="424.19" r="2.0" fill="#3d5d8b"/>
<circle cx="432.78" cy="424.52" r="2.0" fill="#3d5d8b"/>
<circle cx="430.29" cy="426.75" r="2.0" fill="#3d5d8b"/>
<circle cx="428.86" cy="428.70" r="2.0" fill="#3d5d8b"/>
<circle cx="431.30" cy="428.72" r="2.0" fill="#3d5d8b"/>
<line x1="425.70" y1="417.70" x2="434.50" y2="417.70" stroke="#000" stroke-width="1.5"/>
<line x1="430.10" y1="416.70" x2="430.10" y2="418.70" stroke="#000" stroke-width="0.9"/>
<line x1="428.30" y1="416.70" x2="431.90" y2="416.70" stroke="#000" stroke-width="0.8"/>
<line x1="428.30" y1="418.70" x2="431.90" y2="418.70" stroke="#000" stroke-width="0.8"/>
<path d="M437.67 404.66H442.27L439.97 408.80Z" fill="#a42a40"/>
<path d="M439.82 405.07H444.42L442.12 409.21Z" fill="#a42a40"/>
<path d="M442.35 404.65H446.95L444.65 408.79Z" fill="#a42a40"/>
<path d="M438.47 406.79H443.07L440.77 410.93Z" fill="#a42a40"/>
<path d="M441.15 407.05H445.75L443.45 411.19Z" fill="#a42a40"/>
<path d="M437.73 408.89H442.33L440.03 413.03Z" fill="#a42a40"/>
<path d="M439.86 408.35H444.46L442.16 412.49Z" fill="#a42a40"/>
<path d="M442.26 408.60H446.86L444.56 412.74Z" fill="#a42a40"/>
<path d="M438.88 410.41H443.48L441.18 414.55Z" fill="#a42a40"/>
<path d="M441.09 410.39H445.69L443.39 414.53Z" fill="#a42a40"/>
<path d="M437.57 412.39H442.17L439.87 416.53Z" fill="#a42a40"/>
<path d="M440.15 412.50H444.75L442.45 416.64Z" fill="#a42a40"/>
<path d="M442.60 412.06H447.20L444.90 416.20Z" fill="#a42a40"/>
<path d="M438.95 414.01H443.55L441.25 418.15Z" fill="#a42a40"/>
<path d="M441.29 414.05H445.89L443.59 418.19Z" fill="#a42a40"/>
<path d="M437.64 415.79H442.24L439.94 419.93Z" fill="#a42a40"/>
<path d="M439.85 415.82H444.45L442.15 419.96Z" fill="#a42a40"/>
<path d="M442.29 416.20H446.89L444.59 420.34Z" fill="#a42a40"/>
<path d="M438.80 417.71H443.40L441.10 421.85Z" fill="#a42a40"/>
<path d="M441.19 418.11H445.79L443.49 422.25Z" fill="#a42a40"/>
<path d="M438.07 419.50H442.67L440.37 423.64Z" fill="#a42a40"/>
<path d="M442.12 419.75H446.72L444.42 423.89Z" fill="#a42a40"/>
<path d="M440.29 421.26H444.89L442.59 425.40Z" fill="#a42a40"/>
<path d="M439.27 423.54H443.87L441.57 427.68Z" fill="#a42a40"/>
<path d="M440.92 423.59H445.52L443.22 427.73Z" fill="#a42a40"/>
<line x1="437.90" y1="416.50" x2="446.70" y2="416.50" stroke="#000" stroke-width="1.5"/>
<line x1="442.30" y1="415.50" x2="442.30" y2="417.50" stroke="#000" stroke-width="0.9"/>
<line x1="440.50" y1="415.50" x2="444.10" y2="415.50" stroke="#000" stroke-width="0.8"/>
<line x1="440.50" y1="417.50" x2="444.10" y2="417.50" stroke="#000" stroke-width="0.8"/>
<path d="M452.10 397.43H456.70L454.40 401.57Z" fill="#3d5d8b"/>
<path d="M451.05 403.79H455.65L453.35 407.93Z" fill="#3d5d8b"/>
<path d="M452.65 403.73H457.25L454.95 407.87Z" fill="#3d5d8b"/>
<path d="M452.38 405.80H456.98L454.68 409.94Z" fill="#3d5d8b"/>
<path d="M451.45 407.51H456.05L453.75 411.65Z" fill="#3d5d8b"/>
<path d="M453.23 407.56H457.83L455.53 411.70Z" fill="#3d5d8b"/>
<path d="M451.96 409.59H456.56L454.26 413.73Z" fill="#3d5d8b"/>
<path d="M451.33 411.02H455.93L453.63 415.16Z" fill="#3d5d8b"/>
<path d="M453.19 411.33H457.79L455.49 415.47Z" fill="#3d5d8b"/>
<path d="M451.93 413.02H456.53L454.23 417.16Z" fill="#3d5d8b"/>
<path d="M450.72 414.75H455.32L453.02 418.89Z" fill="#3d5d8b"/>
<path d="M453.12 414.99H457.72L455.42 419.13Z" fill="#3d5d8b"/>
<path d="M452.19 416.59H456.79L454.49 420.73Z" fill="#3d5d8b"/>
<path d="M449.74 418.50H454.34L452.04 422.64Z" fill="#3d5d8b"/>
<path d="M452.21 418.41H456.81L454.51 422.55Z" fill="#3d5d8b"/>
<path d="M454.06 418.42H458.66L456.36 422.56Z" fill="#3d5d8b"/>
<path d="M451.10 420.47H455.70L453.40 424.61Z" fill="#3d5d8b"/>
<path d="M453.01 420.20H457.61L455.31 424.34Z" fill="#3d5d8b"/>
<path d="M450.25 422.30H454.85L452.55 426.44Z" fill="#3d5d8b"/>
<path d="M453.97 422.03H458.57L456.27 426.17Z" fill="#3d5d8b"/>
<path d="M451.90 424.23H456.50L454.20 428.37Z" fill="#3d5d8b"/>
<path d="M452.05 425.81H456.65L454.35 429.95Z" fill="#3d5d8b"/>
<line x1="450.00" y1="415.40" x2="458.80" y2="415.40" stroke="#000" stroke-width="1.5"/>
<line x1="454.40" y1="414.40" x2="454.40" y2="416.40" stroke="#000" stroke-width="0.9"/>
<line x1="452.60" y1="414.40" x2="456.20" y2="414.40" stroke="#000" stroke-width="0.8"/>
<line x1="452.60" y1="416.40" x2="456.20" y2="416.40" stroke="#000" stroke-width="0.8"/>
<path d="M293.30 379.00V376.80H306.30V379.00" fill="none" stroke="#231f20" stroke-width="0.9"/>
<text x="299.75" y="373.50" font-size="6.6" text-anchor="middle" textLength="24.50" lengthAdjust="spacingAndGlyphs">P=0.0005</text>
<path d="M318.30 379.00V376.80H330.50V379.00" fill="none" stroke="#231f20" stroke-width="0.9"/>
<text x="329.00" y="373.50" font-size="6.6" text-anchor="middle" textLength="18.00" lengthAdjust="spacingAndGlyphs">P=0.03</text>
<path d="M355.50 379.00V376.80H367.50V379.00" fill="none" stroke="#231f20" stroke-width="0.9"/>
<text x="362.10" y="373.50" font-size="6.6" text-anchor="middle" textLength="21.80" lengthAdjust="spacingAndGlyphs">P=0.004</text>
<path d="M417.30 379.00V376.80H430.60V379.00" fill="none" stroke="#231f20" stroke-width="0.9"/>
<text x="423.95" y="373.50" font-size="6.6" text-anchor="middle" textLength="21.90" lengthAdjust="spacingAndGlyphs">P=0.003</text>
<path d="M417.30 367.50V365.30H443.30V367.50" fill="none" stroke="#231f20" stroke-width="0.9"/>
<text x="430.10" y="362.00" font-size="6.6" text-anchor="middle" textLength="18.80" lengthAdjust="spacingAndGlyphs">P=0.03</text>
<path d="M318.30 357.20V355.00H443.30V357.20" fill="none" stroke="#231f20" stroke-width="0.9"/>
<text x="380.00" y="351.60" font-size="6.6" text-anchor="middle" textLength="21.00" lengthAdjust="spacingAndGlyphs">P=0.005</text>
<text x="7.60" y="494.40" font-size="10.5">I</text>
<line x1="45.30" y1="497.70" x2="45.30" y2="602.60" stroke="#231f20" stroke-width="1.45"/>
<line x1="44.60" y1="601.90" x2="229.70" y2="601.90" stroke="#231f20" stroke-width="1.45"/>
<line x1="42.30" y1="601.90" x2="45.30" y2="601.90" stroke="#231f20" stroke-width="1.0"/>
<text x="39.60" y="604.88" font-size="6.6" text-anchor="end">0</text>
<line x1="42.30" y1="581.68" x2="45.30" y2="581.68" stroke="#231f20" stroke-width="1.0"/>
<text x="39.60" y="584.66" font-size="6.6" text-anchor="end">1</text>
<line x1="42.30" y1="561.46" x2="45.30" y2="561.46" stroke="#231f20" stroke-width="1.0"/>
<text x="39.60" y="564.44" font-size="6.6" text-anchor="end">2</text>
<line x1="42.30" y1="541.24" x2="45.30" y2="541.24" stroke="#231f20" stroke-width="1.0"/>
<text x="39.60" y="544.22" font-size="6.6" text-anchor="end">3</text>
<line x1="42.30" y1="521.02" x2="45.30" y2="521.02" stroke="#231f20" stroke-width="1.0"/>
<text x="39.60" y="524.00" font-size="6.6" text-anchor="end">4</text>
<line x1="42.30" y1="500.80" x2="45.30" y2="500.80" stroke="#231f20" stroke-width="1.0"/>
<text x="39.60" y="503.78" font-size="6.6" text-anchor="end">5</text>
<line x1="76.00" y1="601.90" x2="76.00" y2="604.90" stroke="#231f20" stroke-width="1.0"/>
<text x="76.00" y="612.60" font-size="6.6" text-anchor="middle">-14D</text>
<line x1="137.30" y1="601.90" x2="137.30" y2="604.90" stroke="#231f20" stroke-width="1.0"/>
<text x="137.30" y="612.60" font-size="6.6" text-anchor="middle">+1M</text>
<line x1="198.30" y1="601.90" x2="198.30" y2="604.90" stroke="#231f20" stroke-width="1.0"/>
<text x="198.30" y="612.60" font-size="6.6" text-anchor="middle">+2M</text>
<text x="30.00" y="549.20" font-size="8.6" text-anchor="middle" textLength="93.40" lengthAdjust="spacingAndGlyphs" transform="rotate(-90 30.00 549.20)" class="t">CD34<tspan dy="-3" font-size="6">+</tspan><tspan dy="3"> cells in BMMNC(%)</tspan></text>
<circle cx="111.30" cy="501.30" r="2.0" fill="#a42a40"/>
<text x="117.50" y="503.20" font-size="5.4" textLength="25.00" lengthAdjust="spacingAndGlyphs" fill="#555">1-EC&lt;0.1%</text>
<circle cx="111.30" cy="510.50" r="2.0" fill="#3d5d8b"/>
<text x="117.50" y="512.40" font-size="5.4" textLength="25.00" lengthAdjust="spacingAndGlyphs" fill="#555">1-EC≥0.1%</text>
<path d="M154.10 499.32H158.50L156.30 503.28Z" fill="#a42a40"/>
<text x="162.50" y="503.20" font-size="5.4" textLength="38.20" lengthAdjust="spacingAndGlyphs" fill="#555">2-EC&lt;0.1%+NAC</text>
<path d="M154.10 508.52H158.50L156.30 512.48Z" fill="#3d5d8b"/>
<text x="162.50" y="512.40" font-size="5.4" textLength="25.00" lengthAdjust="spacingAndGlyphs" fill="#555">2-EC≥0.1%</text>
<circle cx="66.50" cy="621.90" r="1.9" fill="#a42a40"/>
<text x="71.40" y="624.25" font-size="6.6" textLength="14.80" lengthAdjust="spacingAndGlyphs">N=30</text>
<circle cx="66.50" cy="628.30" r="1.9" fill="#3d5d8b"/>
<text x="71.40" y="630.65" font-size="6.6" textLength="14.80" lengthAdjust="spacingAndGlyphs">N=38</text>
<path d="M64.40 632.91H68.60L66.50 636.69Z" fill="#a42a40"/>
<text x="71.40" y="637.15" font-size="6.6" textLength="14.80" lengthAdjust="spacingAndGlyphs">N=35</text>
<path d="M64.40 639.51H68.60L66.50 643.29Z" fill="#3d5d8b"/>
<text x="71.40" y="643.75" font-size="6.6" textLength="14.80" lengthAdjust="spacingAndGlyphs">N=39</text>
<circle cx="127.80" cy="621.90" r="1.9" fill="#a42a40"/>
<text x="132.70" y="624.25" font-size="6.6" textLength="14.80" lengthAdjust="spacingAndGlyphs">N=30</text>
<circle cx="127.80" cy="628.30" r="1.9" fill="#3d5d8b"/>
<text x="132.70" y="630.65" font-size="6.6" textLength="14.80" lengthAdjust="spacingAndGlyphs">N=38</text>
<path d="M125.70 632.91H129.90L127.80 636.69Z" fill="#a42a40"/>
<text x="132.70" y="637.15" font-size="6.6" textLength="14.80" lengthAdjust="spacingAndGlyphs">N=34</text>
<path d="M125.70 639.51H129.90L127.80 643.29Z" fill="#3d5d8b"/>
<text x="132.70" y="643.75" font-size="6.6" textLength="14.80" lengthAdjust="spacingAndGlyphs">N=22</text>
<circle cx="188.80" cy="621.90" r="1.9" fill="#a42a40"/>
<text x="193.70" y="624.25" font-size="6.6" textLength="14.80" lengthAdjust="spacingAndGlyphs">N=17</text>
<circle cx="188.80" cy="628.30" r="1.9" fill="#3d5d8b"/>
<text x="193.70" y="630.65" font-size="6.6" textLength="14.80" lengthAdjust="spacingAndGlyphs">N=38</text>
<path d="M186.70 632.91H190.90L188.80 636.69Z" fill="#a42a40"/>
<text x="193.70" y="637.15" font-size="6.6" textLength="14.80" lengthAdjust="spacingAndGlyphs">N=34</text>
<path d="M186.70 639.51H190.90L188.80 643.29Z" fill="#3d5d8b"/>
<text x="193.70" y="643.75" font-size="6.6" textLength="14.80" lengthAdjust="spacingAndGlyphs">N=22</text>
<circle cx="58.60" cy="545.40" r="2.0" fill="#a42a40"/>
<circle cx="56.20" cy="567.60" r="2.0" fill="#a42a40"/>
<circle cx="60.90" cy="563.60" r="2.0" fill="#a42a40"/>
<circle cx="56.32" cy="577.87" r="2.0" fill="#a42a40"/>
<circle cx="60.65" cy="577.64" r="2.0" fill="#a42a40"/>
<circle cx="57.05" cy="579.76" r="2.0" fill="#a42a40"/>
<circle cx="60.29" cy="580.11" r="2.0" fill="#a42a40"/>
<circle cx="55.52" cy="581.84" r="2.0" fill="#a42a40"/>
<circle cx="58.74" cy="581.84" r="2.0" fill="#a42a40"/>
<circle cx="61.30" cy="582.26" r="2.0" fill="#a42a40"/>
<circle cx="57.05" cy="584.42" r="2.0" fill="#a42a40"/>
<circle cx="60.04" cy="584.46" r="2.0" fill="#a42a40"/>
<circle cx="55.58" cy="586.24" r="2.0" fill="#a42a40"/>
<circle cx="58.31" cy="586.47" r="2.0" fill="#a42a40"/>
<circle cx="61.68" cy="586.69" r="2.0" fill="#a42a40"/>
<circle cx="56.85" cy="588.72" r="2.0" fill="#a42a40"/>
<circle cx="60.02" cy="588.65" r="2.0" fill="#a42a40"/>
<circle cx="55.39" cy="590.73" r="2.0" fill="#a42a40"/>
<circle cx="58.61" cy="591.12" r="2.0" fill="#a42a40"/>
<circle cx="61.37" cy="590.85" r="2.0" fill="#a42a40"/>
<circle cx="57.28" cy="593.35" r="2.0" fill="#a42a40"/>
<circle cx="59.92" cy="592.85" r="2.0" fill="#a42a40"/>
<circle cx="55.91" cy="595.57" r="2.0" fill="#a42a40"/>
<circle cx="58.59" cy="595.01" r="2.0" fill="#a42a40"/>
<circle cx="61.81" cy="595.21" r="2.0" fill="#a42a40"/>
<circle cx="57.53" cy="597.56" r="2.0" fill="#a42a40"/>
<circle cx="60.11" cy="597.29" r="2.0" fill="#a42a40"/>
<circle cx="56.48" cy="599.53" r="2.0" fill="#a42a40"/>
<circle cx="58.54" cy="599.91" r="2.0" fill="#a42a40"/>
<circle cx="61.09" cy="599.51" r="2.0" fill="#a42a40"/>
<line x1="54.20" y1="585.10" x2="63.00" y2="585.10" stroke="#000" stroke-width="1.5"/>
<line x1="58.60" y1="583.10" x2="58.60" y2="587.10" stroke="#000" stroke-width="0.9"/>
<line x1="56.80" y1="583.10" x2="60.40" y2="583.10" stroke="#000" stroke-width="0.8"/>
<line x1="56.80" y1="587.10" x2="60.40" y2="587.10" stroke="#000" stroke-width="0.8"/>
<circle cx="70.30" cy="551.40" r="2.0" fill="#3d5d8b"/>
<circle cx="68.10" cy="566.20" r="2.0" fill="#3d5d8b"/>
<circle cx="72.50" cy="566.20" r="2.0" fill="#3d5d8b"/>
<circle cx="68.55" cy="572.34" r="2.0" fill="#3d5d8b"/>
<circle cx="71.90" cy="572.33" r="2.0" fill="#3d5d8b"/>
<circle cx="68.82" cy="574.52" r="2.0" fill="#3d5d8b"/>
<circle cx="71.68" cy="574.91" r="2.0" fill="#3d5d8b"/>
<circle cx="67.52" cy="576.99" r="2.0" fill="#3d5d8b"/>
<circle cx="70.45" cy="576.67" r="2.0" fill="#3d5d8b"/>
<circle cx="73.00" cy="576.72" r="2.0" fill="#3d5d8b"/>
<circle cx="69.11" cy="579.26" r="2.0" fill="#3d5d8b"/>
<circle cx="71.63" cy="579.11" r="2.0" fill="#3d5d8b"/>
<circle cx="67.75" cy="581.55" r="2.0" fill="#3d5d8b"/>
<circle cx="70.26" cy="581.60" r="2.0" fill="#3d5d8b"/>
<circle cx="72.77" cy="581.46" r="2.0" fill="#3d5d8b"/>
<circle cx="68.76" cy="583.85" r="2.0" fill="#3d5d8b"/>
<circle cx="71.54" cy="583.62" r="2.0" fill="#3d5d8b"/>
<circle cx="67.96" cy="586.22" r="2.0" fill="#3d5d8b"/>
<circle cx="70.27" cy="585.86" r="2.0" fill="#3d5d8b"/>
<circle cx="72.78" cy="585.81" r="2.0" fill="#3d5d8b"/>
<circle cx="68.83" cy="588.28" r="2.0" fill="#3d5d8b"/>
<circle cx="71.31" cy="588.29" r="2.0" fill="#3d5d8b"/>
<circle cx="67.81" cy="590.32" r="2.0" fill="#3d5d8b"/>
<circle cx="70.38" cy="590.35" r="2.0" fill="#3d5d8b"/>
<circle cx="72.94" cy="590.77" r="2.0" fill="#3d5d8b"/>
<circle cx="69.06" cy="592.61" r="2.0" fill="#3d5d8b"/>
<circle cx="71.55" cy="592.80" r="2.0" fill="#3d5d8b"/>
<circle cx="68.07" cy="594.93" r="2.0" fill="#3d5d8b"/>
<circle cx="70.51" cy="595.45" r="2.0" fill="#3d5d8b"/>
<circle cx="72.94" cy="595.34" r="2.0" fill="#3d5d8b"/>
<circle cx="68.87" cy="597.71" r="2.0" fill="#3d5d8b"/>
<circle cx="71.55" cy="597.70" r="2.0" fill="#3d5d8b"/>
<circle cx="68.05" cy="599.50" r="2.0" fill="#3d5d8b"/>
<circle cx="70.47" cy="599.96" r="2.0" fill="#3d5d8b"/>
<circle cx="72.54" cy="599.61" r="2.0" fill="#3d5d8b"/>
<line x1="65.90" y1="583.70" x2="74.70" y2="583.70" stroke="#000" stroke-width="1.5"/>
<line x1="70.30" y1="582.20" x2="70.30" y2="585.20" stroke="#000" stroke-width="0.9"/>
<line x1="68.50" y1="582.20" x2="72.10" y2="582.20" stroke="#000" stroke-width="0.8"/>
<line x1="68.50" y1="585.20" x2="72.10" y2="585.20" stroke="#000" stroke-width="0.8"/>
<path d="M80.10 554.73H84.70L82.40 558.87Z" fill="#a42a40"/>
<path d="M80.10 562.83H84.70L82.40 566.97Z" fill="#a42a40"/>
<path d="M77.88 569.51H82.48L80.18 573.65Z" fill="#a42a40"/>
<path d="M80.34 569.58H84.94L82.64 573.72Z" fill="#a42a40"/>
<path d="M82.67 569.50H87.27L84.97 573.64Z" fill="#a42a40"/>
<path d="M78.92 571.83H83.52L81.22 575.97Z" fill="#a42a40"/>
<path d="M81.11 571.43H85.71L83.41 575.57Z" fill="#a42a40"/>
<path d="M77.76 573.33H82.36L80.06 577.47Z" fill="#a42a40"/>
<path d="M79.82 573.24H84.42L82.12 577.38Z" fill="#a42a40"/>
<path d="M82.24 573.70H86.84L84.54 577.84Z" fill="#a42a40"/>
<path d="M79.05 575.53H83.65L81.35 579.67Z" fill="#a42a40"/>
<path d="M81.06 575.46H85.66L83.36 579.60Z" fill="#a42a40"/>
<path d="M77.56 577.17H82.16L79.86 581.31Z" fill="#a42a40"/>
<path d="M80.18 577.07H84.78L82.48 581.21Z" fill="#a42a40"/>
<path d="M82.63 577.19H87.23L84.93 581.33Z" fill="#a42a40"/>
<path d="M79.00 579.24H83.60L81.30 583.38Z" fill="#a42a40"/>
<path d="M81.01 579.31H85.61L83.31 583.45Z" fill="#a42a40"/>
<path d="M77.91 580.81H82.51L80.21 584.95Z" fill="#a42a40"/>
<path d="M80.28 580.73H84.88L82.58 584.87Z" fill="#a42a40"/>
<path d="M82.66 580.92H87.26L84.96 585.06Z" fill="#a42a40"/>
<path d="M78.89 582.89H83.49L81.19 587.03Z" fill="#a42a40"/>
<path d="M81.19 582.54H85.79L83.49 586.68Z" fill="#a42a40"/>
<path d="M78.01 584.32H82.61L80.31 588.46Z" fill="#a42a40"/>
<path d="M80.29 584.44H84.89L82.59 588.58Z" fill="#a42a40"/>
<path d="M82.42 584.88H87.02L84.72 589.02Z" fill="#a42a40"/>
<path d="M79.04 586.55H83.64L81.34 590.69Z" fill="#a42a40"/>
<path d="M81.09 586.15H85.69L83.39 590.29Z" fill="#a42a40"/>
<path d="M77.70 588.10H82.30L80.00 592.24Z" fill="#a42a40"/>
<path d="M80.17 588.27H84.77L82.47 592.41Z" fill="#a42a40"/>
<path d="M82.22 588.55H86.82L84.52 592.69Z" fill="#a42a40"/>
<path d="M79.88 590.00H84.48L82.18 594.14Z" fill="#a42a40"/>
<path d="M78.89 591.74H83.49L81.19 595.88Z" fill="#a42a40"/>
<path d="M81.10 591.94H85.70L83.40 596.08Z" fill="#a42a40"/>
<path d="M79.86 593.80H84.46L82.16 597.94Z" fill="#a42a40"/>
<path d="M79.93 595.80H84.53L82.23 599.94Z" fill="#a42a40"/>
<line x1="78.00" y1="584.10" x2="86.80" y2="584.10" stroke="#000" stroke-width="1.5"/>
<line x1="82.40" y1="582.60" x2="82.40" y2="585.60" stroke="#000" stroke-width="0.9"/>
<line x1="80.60" y1="582.60" x2="84.20" y2="582.60" stroke="#000" stroke-width="0.8"/>
<line x1="80.60" y1="585.60" x2="84.20" y2="585.60" stroke="#000" stroke-width="0.8"/>
<path d="M91.80 552.73H96.40L94.10 556.87Z" fill="#3d5d8b"/>
<path d="M91.80 564.83H96.40L94.10 568.97Z" fill="#3d5d8b"/>
<path d="M89.47 569.54H94.07L91.77 573.68Z" fill="#3d5d8b"/>
<path d="M91.87 569.70H96.47L94.17 573.84Z" fill="#3d5d8b"/>
<path d="M93.96 569.98H98.56L96.26 574.12Z" fill="#3d5d8b"/>
<path d="M90.47 571.35H95.07L92.77 575.49Z" fill="#3d5d8b"/>
<path d="M92.74 571.64H97.34L95.04 575.78Z" fill="#3d5d8b"/>
<path d="M89.68 573.57H94.28L91.98 577.71Z" fill="#3d5d8b"/>
<path d="M91.74 573.26H96.34L94.04 577.40Z" fill="#3d5d8b"/>
<path d="M93.85 573.49H98.45L96.15 577.63Z" fill="#3d5d8b"/>
<path d="M90.68 575.15H95.28L92.98 579.29Z" fill="#3d5d8b"/>
<path d="M93.05 575.21H97.65L95.35 579.35Z" fill="#3d5d8b"/>
<path d="M89.76 577.22H94.36L92.06 581.36Z" fill="#3d5d8b"/>
<path d="M91.65 577.33H96.25L93.95 581.47Z" fill="#3d5d8b"/>
<path d="M93.83 577.10H98.43L96.13 581.24Z" fill="#3d5d8b"/>
<path d="M90.60 578.77H95.20L92.90 582.91Z" fill="#3d5d8b"/>
<path d="M92.68 579.09H97.28L94.98 583.23Z" fill="#3d5d8b"/>
<path d="M89.24 580.80H93.84L91.54 584.94Z" fill="#3d5d8b"/>
<path d="M92.06 580.55H96.66L94.36 584.69Z" fill="#3d5d8b"/>
<path d="M93.89 580.83H98.49L96.19 584.97Z" fill="#3d5d8b"/>
<path d="M90.68 582.69H95.28L92.98 586.83Z" fill="#3d5d8b"/>
<path d="M93.11 582.41H97.71L95.41 586.55Z" fill="#3d5d8b"/>
<path d="M89.45 584.33H94.05L91.75 588.47Z" fill="#3d5d8b"/>
<path d="M91.53 584.68H96.13L93.83 588.82Z" fill="#3d5d8b"/>
<path d="M94.20 584.58H98.80L96.50 588.72Z" fill="#3d5d8b"/>
<path d="M90.40 586.50H95.00L92.70 590.64Z" fill="#3d5d8b"/>
<path d="M93.06 586.27H97.66L95.36 590.41Z" fill="#3d5d8b"/>
<path d="M89.78 588.11H94.38L92.08 592.25Z" fill="#3d5d8b"/>
<path d="M91.64 587.90H96.24L93.94 592.04Z" fill="#3d5d8b"/>
<path d="M93.80 587.86H98.40L96.10 592.00Z" fill="#3d5d8b"/>
<path d="M91.70 590.13H96.30L94.00 594.27Z" fill="#3d5d8b"/>
<path d="M90.45 592.03H95.05L92.75 596.17Z" fill="#3d5d8b"/>
<path d="M93.39 591.68H97.99L95.69 595.82Z" fill="#3d5d8b"/>
<path d="M91.83 593.62H96.43L94.13 597.76Z" fill="#3d5d8b"/>
<path d="M91.21 595.52H95.81L93.51 599.66Z" fill="#3d5d8b"/>
<path d="M92.42 595.59H97.02L94.72 599.73Z" fill="#3d5d8b"/>
<path d="M92.08 597.18H96.68L94.38 601.32Z" fill="#3d5d8b"/>
<line x1="89.70" y1="584.40" x2="98.50" y2="584.40" stroke="#000" stroke-width="1.5"/>
<line x1="94.10" y1="582.90" x2="94.10" y2="585.90" stroke="#000" stroke-width="0.9"/>
<line x1="92.30" y1="582.90" x2="95.90" y2="582.90" stroke="#000" stroke-width="0.8"/>
<line x1="92.30" y1="585.90" x2="95.90" y2="585.90" stroke="#000" stroke-width="0.8"/>
<circle cx="119.40" cy="581.40" r="2.0" fill="#a42a40"/>
<circle cx="117.76" cy="587.91" r="2.0" fill="#a42a40"/>
<circle cx="121.13" cy="588.04" r="2.0" fill="#a42a40"/>
<circle cx="118.20" cy="590.52" r="2.0" fill="#a42a40"/>
<circle cx="120.90" cy="590.15" r="2.0" fill="#a42a40"/>
<circle cx="116.93" cy="592.20" r="2.0" fill="#a42a40"/>
<circle cx="119.24" cy="592.54" r="2.0" fill="#a42a40"/>
<circle cx="122.18" cy="592.42" r="2.0" fill="#a42a40"/>
<circle cx="118.15" cy="594.64" r="2.0" fill="#a42a40"/>
<circle cx="120.73" cy="594.55" r="2.0" fill="#a42a40"/>
<circle cx="116.82" cy="596.61" r="2.0" fill="#a42a40"/>
<circle cx="119.36" cy="596.53" r="2.0" fill="#a42a40"/>
<circle cx="122.14" cy="596.28" r="2.0" fill="#a42a40"/>
<circle cx="117.88" cy="598.52" r="2.0" fill="#a42a40"/>
<circle cx="120.50" cy="598.70" r="2.0" fill="#a42a40"/>
<circle cx="116.74" cy="600.22" r="2.0" fill="#a42a40"/>
<circle cx="119.16" cy="600.76" r="2.0" fill="#a42a40"/>
<circle cx="121.76" cy="600.29" r="2.0" fill="#a42a40"/>
<line x1="115.00" y1="594.90" x2="123.80" y2="594.90" stroke="#000" stroke-width="1.5"/>
<line x1="119.40" y1="593.90" x2="119.40" y2="595.90" stroke="#000" stroke-width="0.9"/>
<line x1="117.60" y1="593.90" x2="121.20" y2="593.90" stroke="#000" stroke-width="0.8"/>
<line x1="117.60" y1="595.90" x2="121.20" y2="595.90" stroke="#000" stroke-width="0.8"/>
<circle cx="131.30" cy="573.50" r="2.0" fill="#3d5d8b"/>
<circle cx="134.40" cy="575.50" r="2.0" fill="#3d5d8b"/>
<circle cx="128.42" cy="581.22" r="2.0" fill="#3d5d8b"/>
<circle cx="131.42" cy="581.58" r="2.0" fill="#3d5d8b"/>
<circle cx="134.01" cy="581.64" r="2.0" fill="#3d5d8b"/>
<circle cx="129.80" cy="583.83" r="2.0" fill="#3d5d8b"/>
<circle cx="132.45" cy="583.97" r="2.0" fill="#3d5d8b"/>
<circle cx="129.14" cy="586.28" r="2.0" fill="#3d5d8b"/>
<circle cx="131.04" cy="586.27" r="2.0" fill="#3d5d8b"/>
<circle cx="133.90" cy="586.32" r="2.0" fill="#3d5d8b"/>
<circle cx="131.06" cy="588.15" r="2.0" fill="#3d5d8b"/>
<circle cx="128.97" cy="590.32" r="2.0" fill="#3d5d8b"/>
<circle cx="133.61" cy="590.79" r="2.0" fill="#3d5d8b"/>
<circle cx="131.38" cy="593.07" r="2.0" fill="#3d5d8b"/>
<circle cx="129.53" cy="595.02" r="2.0" fill="#3d5d8b"/>
<circle cx="132.91" cy="594.91" r="2.0" fill="#3d5d8b"/>
<circle cx="131.45" cy="597.25" r="2.0" fill="#3d5d8b"/>
<circle cx="129.59" cy="599.65" r="2.0" fill="#3d5d8b"/>
<circle cx="132.62" cy="599.55" r="2.0" fill="#3d5d8b"/>
<line x1="126.90" y1="591.80" x2="135.70" y2="591.80" stroke="#000" stroke-width="1.5"/>
<line x1="131.30" y1="590.80" x2="131.30" y2="592.80" stroke="#000" stroke-width="0.9"/>
<line x1="129.50" y1="590.80" x2="133.10" y2="590.80" stroke="#000" stroke-width="0.8"/>
<line x1="129.50" y1="592.80" x2="133.10" y2="592.80" stroke="#000" stroke-width="0.8"/>
<path d="M138.40 571.93H143.00L140.70 576.07Z" fill="#a42a40"/>
<path d="M143.40 571.93H148.00L145.70 576.07Z" fill="#a42a40"/>
<path d="M140.90 575.43H145.50L143.20 579.57Z" fill="#a42a40"/>
<path d="M138.34 580.24H142.94L140.64 584.38Z" fill="#a42a40"/>
<path d="M140.82 580.01H145.42L143.12 584.15Z" fill="#a42a40"/>
<path d="M143.61 580.12H148.21L145.91 584.26Z" fill="#a42a40"/>
<path d="M140.02 582.10H144.62L142.32 586.24Z" fill="#a42a40"/>
<path d="M141.71 581.98H146.31L144.01 586.12Z" fill="#a42a40"/>
<path d="M138.91 584.11H143.51L141.21 588.25Z" fill="#a42a40"/>
<path d="M142.76 584.07H147.36L145.06 588.21Z" fill="#a42a40"/>
<path d="M140.92 585.69H145.52L143.22 589.83Z" fill="#a42a40"/>
<path d="M139.65 587.53H144.25L141.95 591.67Z" fill="#a42a40"/>
<path d="M142.56 587.58H147.16L144.86 591.72Z" fill="#a42a40"/>
<path d="M140.60 589.51H145.20L142.90 593.65Z" fill="#a42a40"/>
<path d="M140.07 591.89H144.67L142.37 596.03Z" fill="#a42a40"/>
<path d="M141.59 591.60H146.19L143.89 595.74Z" fill="#a42a40"/>
<path d="M140.89 593.69H145.49L143.19 597.83Z" fill="#a42a40"/>
<path d="M140.71 595.43H145.31L143.01 599.57Z" fill="#a42a40"/>
<path d="M140.81 597.54H145.41L143.11 601.68Z" fill="#a42a40"/>
<line x1="138.80" y1="592.70" x2="147.60" y2="592.70" stroke="#000" stroke-width="1.5"/>
<line x1="143.20" y1="591.70" x2="143.20" y2="593.70" stroke="#000" stroke-width="0.9"/>
<line x1="141.40" y1="591.70" x2="145.00" y2="591.70" stroke="#000" stroke-width="0.8"/>
<line x1="141.40" y1="593.70" x2="145.00" y2="593.70" stroke="#000" stroke-width="0.8"/>
<path d="M152.90 570.73H157.50L155.20 574.87Z" fill="#3d5d8b"/>
<path d="M151.06 577.38H155.66L153.36 581.52Z" fill="#3d5d8b"/>
<path d="M154.47 576.94H159.07L156.77 581.08Z" fill="#3d5d8b"/>
<path d="M153.02 579.03H157.62L155.32 583.17Z" fill="#3d5d8b"/>
<path d="M150.97 581.02H155.57L153.27 585.16Z" fill="#3d5d8b"/>
<path d="M154.35 581.11H158.95L156.65 585.25Z" fill="#3d5d8b"/>
<path d="M153.02 583.03H157.62L155.32 587.17Z" fill="#3d5d8b"/>
<path d="M151.09 584.68H155.69L153.39 588.82Z" fill="#3d5d8b"/>
<path d="M154.72 584.70H159.32L157.02 588.84Z" fill="#3d5d8b"/>
<path d="M152.10 586.43H156.70L154.40 590.57Z" fill="#3d5d8b"/>
<path d="M154.17 586.40H158.77L156.47 590.54Z" fill="#3d5d8b"/>
<path d="M150.66 588.45H155.26L152.96 592.59Z" fill="#3d5d8b"/>
<path d="M153.14 588.59H157.74L155.44 592.73Z" fill="#3d5d8b"/>
<path d="M154.89 588.82H159.49L157.19 592.96Z" fill="#3d5d8b"/>
<path d="M152.74 590.48H157.34L155.04 594.62Z" fill="#3d5d8b"/>
<path d="M151.66 592.57H156.26L153.96 596.71Z" fill="#3d5d8b"/>
<path d="M154.31 592.51H158.91L156.61 596.65Z" fill="#3d5d8b"/>
<path d="M152.81 594.23H157.41L155.11 598.37Z" fill="#3d5d8b"/>
<path d="M152.69 596.45H157.29L154.99 600.59Z" fill="#3d5d8b"/>
<line x1="150.80" y1="592.20" x2="159.60" y2="592.20" stroke="#000" stroke-width="1.5"/>
<line x1="155.20" y1="591.20" x2="155.20" y2="593.20" stroke="#000" stroke-width="0.9"/>
<line x1="153.40" y1="591.20" x2="157.00" y2="591.20" stroke="#000" stroke-width="0.8"/>
<line x1="153.40" y1="593.20" x2="157.00" y2="593.20" stroke="#000" stroke-width="0.8"/>
<circle cx="180.80" cy="583.60" r="2.0" fill="#a42a40"/>
<circle cx="179.46" cy="589.55" r="2.0" fill="#a42a40"/>
<circle cx="182.04" cy="589.36" r="2.0" fill="#a42a40"/>
<circle cx="180.96" cy="591.71" r="2.0" fill="#a42a40"/>
<circle cx="179.29" cy="593.90" r="2.0" fill="#a42a40"/>
<circle cx="182.32" cy="593.76" r="2.0" fill="#a42a40"/>
<circle cx="180.61" cy="596.06" r="2.0" fill="#a42a40"/>
<circle cx="179.78" cy="598.65" r="2.0" fill="#a42a40"/>
<circle cx="181.73" cy="598.23" r="2.0" fill="#a42a40"/>
<circle cx="180.65" cy="600.60" r="2.0" fill="#a42a40"/>
<line x1="176.40" y1="595.10" x2="185.20" y2="595.10" stroke="#000" stroke-width="1.5"/>
<line x1="180.80" y1="594.10" x2="180.80" y2="596.10" stroke="#000" stroke-width="0.9"/>
<line x1="179.00" y1="594.10" x2="182.60" y2="594.10" stroke="#000" stroke-width="0.8"/>
<line x1="179.00" y1="596.10" x2="182.60" y2="596.10" stroke="#000" stroke-width="0.8"/>
<circle cx="194.60" cy="565.20" r="2.0" fill="#3d5d8b"/>
<circle cx="189.80" cy="568.90" r="2.0" fill="#3d5d8b"/>
<circle cx="190.08" cy="576.10" r="2.0" fill="#3d5d8b"/>
<circle cx="192.40" cy="576.11" r="2.0" fill="#3d5d8b"/>
<circle cx="195.21" cy="576.44" r="2.0" fill="#3d5d8b"/>
<circle cx="191.09" cy="578.68" r="2.0" fill="#3d5d8b"/>
<circle cx="193.44" cy="578.33" r="2.0" fill="#3d5d8b"/>
<circle cx="190.52" cy="580.68" r="2.0" fill="#3d5d8b"/>
<circle cx="192.64" cy="580.46" r="2.0" fill="#3d5d8b"/>
<circle cx="194.59" cy="580.58" r="2.0" fill="#3d5d8b"/>
<circle cx="192.26" cy="582.42" r="2.0" fill="#3d5d8b"/>
<circle cx="190.32" cy="584.42" r="2.0" fill="#3d5d8b"/>
<circle cx="194.56" cy="584.87" r="2.0" fill="#3d5d8b"/>
<circle cx="192.62" cy="586.80" r="2.0" fill="#3d5d8b"/>
<circle cx="190.62" cy="588.88" r="2.0" fill="#3d5d8b"/>
<circle cx="194.25" cy="588.96" r="2.0" fill="#3d5d8b"/>
<circle cx="192.44" cy="591.14" r="2.0" fill="#3d5d8b"/>
<circle cx="190.94" cy="593.06" r="2.0" fill="#3d5d8b"/>
<circle cx="194.35" cy="593.25" r="2.0" fill="#3d5d8b"/>
<circle cx="192.45" cy="595.04" r="2.0" fill="#3d5d8b"/>
<circle cx="190.98" cy="597.53" r="2.0" fill="#3d5d8b"/>
<circle cx="194.31" cy="597.42" r="2.0" fill="#3d5d8b"/>
<circle cx="192.71" cy="599.51" r="2.0" fill="#3d5d8b"/>
<line x1="188.10" y1="588.90" x2="196.90" y2="588.90" stroke="#000" stroke-width="1.5"/>
<line x1="192.50" y1="587.90" x2="192.50" y2="589.90" stroke="#000" stroke-width="0.9"/>
<line x1="190.70" y1="587.90" x2="194.30" y2="587.90" stroke="#000" stroke-width="0.8"/>
<line x1="190.70" y1="589.90" x2="194.30" y2="589.90" stroke="#000" stroke-width="0.8"/>
<path d="M202.40 566.13H207.00L204.70 570.27Z" fill="#a42a40"/>
<path d="M199.99 573.09H204.59L202.29 577.23Z" fill="#a42a40"/>
<path d="M202.29 573.19H206.89L204.59 577.33Z" fill="#a42a40"/>
<path d="M204.65 573.07H209.25L206.95 577.21Z" fill="#a42a40"/>
<path d="M201.41 575.11H206.01L203.71 579.25Z" fill="#a42a40"/>
<path d="M203.64 574.83H208.24L205.94 578.97Z" fill="#a42a40"/>
<path d="M200.21 576.82H204.81L202.51 580.96Z" fill="#a42a40"/>
<path d="M202.47 576.79H207.07L204.77 580.93Z" fill="#a42a40"/>
<path d="M204.65 577.10H209.25L206.95 581.24Z" fill="#a42a40"/>
<path d="M202.21 578.80H206.81L204.51 582.94Z" fill="#a42a40"/>
<path d="M200.78 580.50H205.38L203.08 584.64Z" fill="#a42a40"/>
<path d="M204.18 580.86H208.78L206.48 585.00Z" fill="#a42a40"/>
<path d="M202.12 582.46H206.72L204.42 586.60Z" fill="#a42a40"/>
<path d="M200.76 584.47H205.36L203.06 588.61Z" fill="#a42a40"/>
<path d="M204.10 584.31H208.70L206.40 588.45Z" fill="#a42a40"/>
<path d="M202.16 586.21H206.76L204.46 590.35Z" fill="#a42a40"/>
<path d="M201.34 588.16H205.94L203.64 592.30Z" fill="#a42a40"/>
<path d="M203.49 588.11H208.09L205.79 592.25Z" fill="#a42a40"/>
<path d="M202.60 589.90H207.20L204.90 594.04Z" fill="#a42a40"/>
<path d="M201.61 592.02H206.21L203.91 596.16Z" fill="#a42a40"/>
<path d="M202.96 591.86H207.56L205.26 596.00Z" fill="#a42a40"/>
<path d="M202.34 593.77H206.94L204.64 597.91Z" fill="#a42a40"/>
<path d="M202.17 595.77H206.77L204.47 599.91Z" fill="#a42a40"/>
<path d="M202.31 597.08H206.91L204.61 601.22Z" fill="#a42a40"/>
<line x1="200.30" y1="590.50" x2="209.10" y2="590.50" stroke="#000" stroke-width="1.5"/>
<line x1="204.70" y1="589.50" x2="204.70" y2="591.50" stroke="#000" stroke-width="0.9"/>
<line x1="202.90" y1="589.50" x2="206.50" y2="589.50" stroke="#000" stroke-width="0.8"/>
<line x1="202.90" y1="591.50" x2="206.50" y2="591.50" stroke="#000" stroke-width="0.8"/>
<path d="M211.60 562.33H216.20L213.90 566.47Z" fill="#3d5d8b"/>
<path d="M216.40 560.63H221.00L218.70 564.77Z" fill="#3d5d8b"/>
<path d="M211.79 572.05H216.39L214.09 576.19Z" fill="#3d5d8b"/>
<path d="M215.58 572.07H220.18L217.88 576.21Z" fill="#3d5d8b"/>
<path d="M212.75 574.05H217.35L215.05 578.19Z" fill="#3d5d8b"/>
<path d="M214.91 573.79H219.51L217.21 577.93Z" fill="#3d5d8b"/>
<path d="M211.31 575.90H215.91L213.61 580.04Z" fill="#3d5d8b"/>
<path d="M214.16 575.77H218.76L216.46 579.91Z" fill="#3d5d8b"/>
<path d="M216.16 575.93H220.76L218.46 580.07Z" fill="#3d5d8b"/>
<path d="M212.51 577.40H217.11L214.81 581.54Z" fill="#3d5d8b"/>
<path d="M215.00 577.73H219.60L217.30 581.87Z" fill="#3d5d8b"/>
<path d="M211.57 579.47H216.17L213.87 583.61Z" fill="#3d5d8b"/>
<path d="M213.88 579.42H218.48L216.18 583.56Z" fill="#3d5d8b"/>
<path d="M216.25 579.66H220.85L218.55 583.80Z" fill="#3d5d8b"/>
<path d="M212.67 581.29H217.27L214.97 585.43Z" fill="#3d5d8b"/>
<path d="M215.24 581.39H219.84L217.54 585.53Z" fill="#3d5d8b"/>
<path d="M211.82 582.90H216.42L214.12 587.04Z" fill="#3d5d8b"/>
<path d="M213.93 582.80H218.53L216.23 586.94Z" fill="#3d5d8b"/>
<path d="M216.16 582.93H220.76L218.46 587.07Z" fill="#3d5d8b"/>
<path d="M214.11 584.70H218.71L216.41 588.84Z" fill="#3d5d8b"/>
<path d="M212.22 586.51H216.82L214.52 590.65Z" fill="#3d5d8b"/>
<path d="M215.46 586.47H220.06L217.76 590.61Z" fill="#3d5d8b"/>
<path d="M213.60 588.61H218.20L215.90 592.75Z" fill="#3d5d8b"/>
<path d="M212.61 590.14H217.21L214.91 594.28Z" fill="#3d5d8b"/>
<path d="M214.94 590.28H219.54L217.24 594.42Z" fill="#3d5d8b"/>
<path d="M213.86 592.19H218.46L216.16 596.33Z" fill="#3d5d8b"/>
<path d="M213.30 593.84H217.90L215.60 597.98Z" fill="#3d5d8b"/>
<path d="M214.86 594.14H219.46L217.16 598.28Z" fill="#3d5d8b"/>
<path d="M213.63 595.94H218.23L215.93 600.08Z" fill="#3d5d8b"/>
<line x1="211.80" y1="589.60" x2="220.60" y2="589.60" stroke="#000" stroke-width="1.5"/>
<line x1="216.20" y1="588.60" x2="216.20" y2="590.60" stroke="#000" stroke-width="0.9"/>
<line x1="214.40" y1="588.60" x2="218.00" y2="588.60" stroke="#000" stroke-width="0.8"/>
<line x1="214.40" y1="590.60" x2="218.00" y2="590.60" stroke="#000" stroke-width="0.8"/>
<path d="M119.40 554.20V552.00H131.30V554.20" fill="none" stroke="#231f20" stroke-width="0.9"/>
<text x="125.45" y="550.30" font-size="6.6" text-anchor="middle" textLength="18.30" lengthAdjust="spacingAndGlyphs">P=0.03</text>
<path d="M180.40 553.20V551.00H193.20V553.20" fill="none" stroke="#231f20" stroke-width="0.9"/>
<text x="186.50" y="548.40" font-size="6.6" text-anchor="middle" textLength="18.20" lengthAdjust="spacingAndGlyphs">P=0.02</text>
<path d="M180.40 539.40V537.20H204.70V539.40" fill="none" stroke="#231f20" stroke-width="0.9"/>
<text x="192.70" y="535.30" font-size="6.6" text-anchor="middle" textLength="19.00" lengthAdjust="spacingAndGlyphs">P=0.04</text>
<text x="239.60" y="494.40" font-size="10.5">J</text>
<line x1="284.20" y1="497.00" x2="284.20" y2="602.20" stroke="#231f20" stroke-width="1.45"/>
<line x1="283.50" y1="601.50" x2="471.50" y2="601.50" stroke="#231f20" stroke-width="1.45"/>
<line x1="281.20" y1="601.50" x2="284.20" y2="601.50" stroke="#231f20" stroke-width="1.0"/>
<text x="279.40" y="604.48" font-size="6.6" text-anchor="end">0</text>
<line x1="281.20" y1="575.99" x2="284.20" y2="575.99" stroke="#231f20" stroke-width="1.0"/>
<text x="279.40" y="578.97" font-size="6.6" text-anchor="end">10000</text>
<line x1="281.20" y1="550.48" x2="284.20" y2="550.48" stroke="#231f20" stroke-width="1.0"/>
<text x="279.40" y="553.46" font-size="6.6" text-anchor="end">20000</text>
<line x1="281.20" y1="524.97" x2="284.20" y2="524.97" stroke="#231f20" stroke-width="1.0"/>
<text x="279.40" y="527.95" font-size="6.6" text-anchor="end">30000</text>
<line x1="281.20" y1="499.46" x2="284.20" y2="499.46" stroke="#231f20" stroke-width="1.0"/>
<text x="279.40" y="502.44" font-size="6.6" text-anchor="end">40000</text>
<line x1="316.00" y1="601.50" x2="316.00" y2="604.50" stroke="#231f20" stroke-width="1.0"/>
<text x="316.00" y="612.60" font-size="6.6" text-anchor="middle">-14D</text>
<line x1="378.10" y1="601.50" x2="378.10" y2="604.50" stroke="#231f20" stroke-width="1.0"/>
<text x="378.10" y="612.60" font-size="6.6" text-anchor="middle">+1M</text>
<line x1="440.30" y1="601.50" x2="440.30" y2="604.50" stroke="#231f20" stroke-width="1.0"/>
<text x="440.30" y="612.60" font-size="6.6" text-anchor="middle">+2M</text>
<text x="253.80" y="550.70" font-size="8.6" text-anchor="middle" textLength="93.60" lengthAdjust="spacingAndGlyphs" transform="rotate(-90 253.80 550.70)" class="t">CD34<tspan dy="-3" font-size="6">+</tspan><tspan dy="3"> cells ROS level(MFI)</tspan></text>
<circle cx="350.00" cy="501.00" r="2.0" fill="#a42a40"/>
<text x="356.20" y="502.90" font-size="5.4" textLength="25.00" lengthAdjust="spacingAndGlyphs" fill="#555">1-EC&lt;0.1%</text>
<circle cx="350.00" cy="510.50" r="2.0" fill="#3d5d8b"/>
<text x="356.20" y="512.40" font-size="5.4" textLength="25.00" lengthAdjust="spacingAndGlyphs" fill="#555">1-EC≥0.1%</text>
<path d="M393.30 499.02H397.70L395.50 502.98Z" fill="#a42a40"/>
<text x="401.70" y="502.90" font-size="5.4" textLength="37.50" lengthAdjust="spacingAndGlyphs" fill="#555">2-EC&lt;0.1%+NAC</text>
<path d="M393.30 508.52H397.70L395.50 512.48Z" fill="#3d5d8b"/>
<text x="401.70" y="512.40" font-size="5.4" textLength="25.00" lengthAdjust="spacingAndGlyphs" fill="#555">2-EC≥0.1%</text>
<circle cx="306.40" cy="621.90" r="1.9" fill="#a42a40"/>
<text x="311.30" y="624.25" font-size="6.6" textLength="14.80" lengthAdjust="spacingAndGlyphs">N=30</text>
<circle cx="306.40" cy="628.30" r="1.9" fill="#3d5d8b"/>
<text x="311.30" y="630.65" font-size="6.6" textLength="14.80" lengthAdjust="spacingAndGlyphs">N=38</text>
<path d="M304.30 632.91H308.50L306.40 636.69Z" fill="#a42a40"/>
<text x="311.30" y="637.15" font-size="6.6" textLength="14.80" lengthAdjust="spacingAndGlyphs">N=35</text>
<path d="M304.30 639.51H308.50L306.40 643.29Z" fill="#3d5d8b"/>
<text x="311.30" y="643.75" font-size="6.6" textLength="14.80" lengthAdjust="spacingAndGlyphs">N=39</text>
<circle cx="368.50" cy="621.90" r="1.9" fill="#a42a40"/>
<text x="373.40" y="624.25" font-size="6.6" textLength="14.80" lengthAdjust="spacingAndGlyphs">N=30</text>
<circle cx="368.50" cy="628.30" r="1.9" fill="#3d5d8b"/>
<text x="373.40" y="630.65" font-size="6.6" textLength="14.80" lengthAdjust="spacingAndGlyphs">N=38</text>
<path d="M366.40 632.91H370.60L368.50 636.69Z" fill="#a42a40"/>
<text x="373.40" y="637.15" font-size="6.6" textLength="14.80" lengthAdjust="spacingAndGlyphs">N=34</text>
<path d="M366.40 639.51H370.60L368.50 643.29Z" fill="#3d5d8b"/>
<text x="373.40" y="643.75" font-size="6.6" textLength="14.80" lengthAdjust="spacingAndGlyphs">N=22</text>
<circle cx="430.70" cy="621.90" r="1.9" fill="#a42a40"/>
<text x="435.60" y="624.25" font-size="6.6" textLength="14.80" lengthAdjust="spacingAndGlyphs">N=17</text>
<circle cx="430.70" cy="628.30" r="1.9" fill="#3d5d8b"/>
<text x="435.60" y="630.65" font-size="6.6" textLength="14.80" lengthAdjust="spacingAndGlyphs">N=38</text>
<path d="M428.60 632.91H432.80L430.70 636.69Z" fill="#a42a40"/>
<text x="435.60" y="637.15" font-size="6.6" textLength="14.80" lengthAdjust="spacingAndGlyphs">N=34</text>
<path d="M428.60 639.51H432.80L430.70 643.29Z" fill="#3d5d8b"/>
<text x="435.60" y="643.75" font-size="6.6" textLength="14.80" lengthAdjust="spacingAndGlyphs">N=22</text>
<circle cx="297.90" cy="577.20" r="2.0" fill="#a42a40"/>
<circle cx="295.52" cy="582.57" r="2.0" fill="#a42a40"/>
<circle cx="297.68" cy="582.60" r="2.0" fill="#a42a40"/>
<circle cx="300.61" cy="582.11" r="2.0" fill="#a42a40"/>
<circle cx="296.22" cy="584.82" r="2.0" fill="#a42a40"/>
<circle cx="299.38" cy="584.40" r="2.0" fill="#a42a40"/>
<circle cx="294.75" cy="586.49" r="2.0" fill="#a42a40"/>
<circle cx="297.74" cy="586.87" r="2.0" fill="#a42a40"/>
<circle cx="300.72" cy="586.49" r="2.0" fill="#a42a40"/>
<circle cx="296.85" cy="589.03" r="2.0" fill="#a42a40"/>
<circle cx="298.99" cy="589.08" r="2.0" fill="#a42a40"/>
<circle cx="295.57" cy="591.17" r="2.0" fill="#a42a40"/>
<circle cx="298.00" cy="591.24" r="2.0" fill="#a42a40"/>
<circle cx="300.47" cy="591.20" r="2.0" fill="#a42a40"/>
<circle cx="296.35" cy="593.27" r="2.0" fill="#a42a40"/>
<circle cx="299.29" cy="593.30" r="2.0" fill="#a42a40"/>
<circle cx="295.23" cy="595.53" r="2.0" fill="#a42a40"/>
<circle cx="297.93" cy="595.16" r="2.0" fill="#a42a40"/>
<circle cx="300.38" cy="595.08" r="2.0" fill="#a42a40"/>
<circle cx="296.63" cy="597.19" r="2.0" fill="#a42a40"/>
<circle cx="299.14" cy="597.24" r="2.0" fill="#a42a40"/>
<circle cx="296.31" cy="599.60" r="2.0" fill="#a42a40"/>
<circle cx="299.51" cy="599.82" r="2.0" fill="#a42a40"/>
<line x1="293.50" y1="591.50" x2="302.30" y2="591.50" stroke="#000" stroke-width="1.5"/>
<line x1="297.90" y1="590.70" x2="297.90" y2="592.30" stroke="#000" stroke-width="0.9"/>
<line x1="296.10" y1="590.70" x2="299.70" y2="590.70" stroke="#000" stroke-width="0.8"/>
<line x1="296.10" y1="592.30" x2="299.70" y2="592.30" stroke="#000" stroke-width="0.8"/>
<circle cx="307.10" cy="577.20" r="2.0" fill="#3d5d8b"/>
<circle cx="312.10" cy="577.20" r="2.0" fill="#3d5d8b"/>
<circle cx="306.70" cy="582.60" r="2.0" fill="#3d5d8b"/>
<circle cx="309.48" cy="582.44" r="2.0" fill="#3d5d8b"/>
<circle cx="312.10" cy="582.60" r="2.0" fill="#3d5d8b"/>
<circle cx="308.17" cy="584.51" r="2.0" fill="#3d5d8b"/>
<circle cx="311.03" cy="584.31" r="2.0" fill="#3d5d8b"/>
<circle cx="307.08" cy="586.81" r="2.0" fill="#3d5d8b"/>
<circle cx="309.22" cy="586.79" r="2.0" fill="#3d5d8b"/>
<circle cx="312.11" cy="586.98" r="2.0" fill="#3d5d8b"/>
<circle cx="308.15" cy="589.18" r="2.0" fill="#3d5d8b"/>
<circle cx="310.76" cy="588.88" r="2.0" fill="#3d5d8b"/>
<circle cx="307.24" cy="590.77" r="2.0" fill="#3d5d8b"/>
<circle cx="309.63" cy="591.13" r="2.0" fill="#3d5d8b"/>
<circle cx="311.90" cy="591.27" r="2.0" fill="#3d5d8b"/>
<circle cx="308.17" cy="593.20" r="2.0" fill="#3d5d8b"/>
<circle cx="310.77" cy="593.37" r="2.0" fill="#3d5d8b"/>
<circle cx="306.83" cy="595.34" r="2.0" fill="#3d5d8b"/>
<circle cx="309.45" cy="595.41" r="2.0" fill="#3d5d8b"/>
<circle cx="312.20" cy="595.25" r="2.0" fill="#3d5d8b"/>
<circle cx="308.45" cy="597.48" r="2.0" fill="#3d5d8b"/>
<circle cx="310.75" cy="597.40" r="2.0" fill="#3d5d8b"/>
<circle cx="307.00" cy="599.98" r="2.0" fill="#3d5d8b"/>
<circle cx="309.59" cy="599.88" r="2.0" fill="#3d5d8b"/>
<circle cx="311.90" cy="599.59" r="2.0" fill="#3d5d8b"/>
<line x1="305.10" y1="592.10" x2="313.90" y2="592.10" stroke="#000" stroke-width="1.5"/>
<line x1="309.50" y1="591.30" x2="309.50" y2="592.90" stroke="#000" stroke-width="0.9"/>
<line x1="307.70" y1="591.30" x2="311.30" y2="591.30" stroke="#000" stroke-width="0.8"/>
<line x1="307.70" y1="592.90" x2="311.30" y2="592.90" stroke="#000" stroke-width="0.8"/>
<path d="M319.30 554.73H323.90L321.60 558.87Z" fill="#a42a40"/>
<path d="M319.30 571.23H323.90L321.60 575.37Z" fill="#a42a40"/>
<path d="M317.10 578.43H321.70L319.40 582.57Z" fill="#a42a40"/>
<path d="M321.70 578.43H326.30L324.00 582.57Z" fill="#a42a40"/>
<path d="M317.14 583.17H321.74L319.44 587.31Z" fill="#a42a40"/>
<path d="M319.38 583.29H323.98L321.68 587.43Z" fill="#a42a40"/>
<path d="M321.06 583.25H325.66L323.36 587.39Z" fill="#a42a40"/>
<path d="M319.53 585.00H324.13L321.83 589.14Z" fill="#a42a40"/>
<path d="M317.44 586.70H322.04L319.74 590.84Z" fill="#a42a40"/>
<path d="M320.60 586.64H325.20L322.90 590.78Z" fill="#a42a40"/>
<path d="M319.55 588.74H324.15L321.85 592.88Z" fill="#a42a40"/>
<path d="M318.24 590.70H322.84L320.54 594.84Z" fill="#a42a40"/>
<path d="M320.70 590.60H325.30L323.00 594.74Z" fill="#a42a40"/>
<path d="M319.37 592.46H323.97L321.67 596.60Z" fill="#a42a40"/>
<path d="M318.71 594.30H323.31L321.01 598.44Z" fill="#a42a40"/>
<path d="M320.11 594.07H324.71L322.41 598.21Z" fill="#a42a40"/>
<path d="M319.40 596.07H324.00L321.70 600.21Z" fill="#a42a40"/>
<path d="M319.46 597.71H324.06L321.76 601.85Z" fill="#a42a40"/>
<line x1="317.20" y1="592.60" x2="326.00" y2="592.60" stroke="#000" stroke-width="1.5"/>
<line x1="321.60" y1="591.60" x2="321.60" y2="593.60" stroke="#000" stroke-width="0.9"/>
<line x1="319.80" y1="591.60" x2="323.40" y2="591.60" stroke="#000" stroke-width="0.8"/>
<line x1="319.80" y1="593.60" x2="323.40" y2="593.60" stroke="#000" stroke-width="0.8"/>
<path d="M331.80 527.13H336.40L334.10 531.27Z" fill="#3d5d8b"/>
<path d="M331.80 555.03H336.40L334.10 559.17Z" fill="#3d5d8b"/>
<path d="M331.80 574.23H336.40L334.10 578.37Z" fill="#3d5d8b"/>
<path d="M329.82 579.74H334.42L332.12 583.88Z" fill="#3d5d8b"/>
<path d="M333.76 580.26H338.36L336.06 584.40Z" fill="#3d5d8b"/>
<path d="M331.89 581.80H336.49L334.19 585.94Z" fill="#3d5d8b"/>
<path d="M330.55 583.90H335.15L332.85 588.04Z" fill="#3d5d8b"/>
<path d="M333.28 583.59H337.88L335.58 587.73Z" fill="#3d5d8b"/>
<path d="M331.68 585.54H336.28L333.98 589.68Z" fill="#3d5d8b"/>
<path d="M330.60 587.41H335.20L332.90 591.55Z" fill="#3d5d8b"/>
<path d="M332.97 587.71H337.57L335.27 591.85Z" fill="#3d5d8b"/>
<path d="M331.53 589.35H336.13L333.83 593.49Z" fill="#3d5d8b"/>
<path d="M330.79 590.94H335.39L333.09 595.08Z" fill="#3d5d8b"/>
<path d="M332.72 591.21H337.32L335.02 595.35Z" fill="#3d5d8b"/>
<path d="M332.05 593.00H336.65L334.35 597.14Z" fill="#3d5d8b"/>
<path d="M331.51 594.82H336.11L333.81 598.96Z" fill="#3d5d8b"/>
<path d="M331.86 597.01H336.46L334.16 601.15Z" fill="#3d5d8b"/>
<line x1="329.70" y1="591.00" x2="338.50" y2="591.00" stroke="#000" stroke-width="1.5"/>
<line x1="334.10" y1="589.50" x2="334.10" y2="592.50" stroke="#000" stroke-width="0.9"/>
<line x1="332.30" y1="589.50" x2="335.90" y2="589.50" stroke="#000" stroke-width="0.8"/>
<line x1="332.30" y1="592.50" x2="335.90" y2="592.50" stroke="#000" stroke-width="0.8"/>
<circle cx="359.90" cy="561.00" r="2.0" fill="#a42a40"/>
<circle cx="357.90" cy="575.80" r="2.0" fill="#a42a40"/>
<circle cx="358.40" cy="580.39" r="2.0" fill="#a42a40"/>
<circle cx="361.64" cy="580.16" r="2.0" fill="#a42a40"/>
<circle cx="359.99" cy="582.37" r="2.0" fill="#a42a40"/>
<circle cx="357.24" cy="584.40" r="2.0" fill="#a42a40"/>
<circle cx="359.60" cy="584.80" r="2.0" fill="#a42a40"/>
<circle cx="362.13" cy="584.97" r="2.0" fill="#a42a40"/>
<circle cx="358.40" cy="587.06" r="2.0" fill="#a42a40"/>
<circle cx="360.93" cy="586.54" r="2.0" fill="#a42a40"/>
<circle cx="357.53" cy="588.82" r="2.0" fill="#a42a40"/>
<circle cx="360.04" cy="588.79" r="2.0" fill="#a42a40"/>
<circle cx="362.13" cy="589.14" r="2.0" fill="#a42a40"/>
<circle cx="358.78" cy="591.34" r="2.0" fill="#a42a40"/>
<circle cx="361.29" cy="590.87" r="2.0" fill="#a42a40"/>
<circle cx="357.48" cy="593.39" r="2.0" fill="#a42a40"/>
<circle cx="359.88" cy="593.53" r="2.0" fill="#a42a40"/>
<circle cx="362.25" cy="593.55" r="2.0" fill="#a42a40"/>
<circle cx="358.78" cy="595.12" r="2.0" fill="#a42a40"/>
<circle cx="360.86" cy="595.50" r="2.0" fill="#a42a40"/>
<circle cx="357.59" cy="597.30" r="2.0" fill="#a42a40"/>
<circle cx="359.79" cy="597.69" r="2.0" fill="#a42a40"/>
<circle cx="362.20" cy="597.77" r="2.0" fill="#a42a40"/>
<circle cx="358.64" cy="599.44" r="2.0" fill="#a42a40"/>
<circle cx="361.07" cy="599.74" r="2.0" fill="#a42a40"/>
<line x1="355.50" y1="587.90" x2="364.30" y2="587.90" stroke="#000" stroke-width="1.5"/>
<line x1="359.90" y1="586.90" x2="359.90" y2="588.90" stroke="#000" stroke-width="0.9"/>
<line x1="358.10" y1="586.90" x2="361.70" y2="586.90" stroke="#000" stroke-width="0.8"/>
<line x1="358.10" y1="588.90" x2="361.70" y2="588.90" stroke="#000" stroke-width="0.8"/>
<circle cx="372.00" cy="577.40" r="2.0" fill="#3d5d8b"/>
<circle cx="369.51" cy="582.01" r="2.0" fill="#3d5d8b"/>
<circle cx="371.79" cy="582.08" r="2.0" fill="#3d5d8b"/>
<circle cx="374.37" cy="581.99" r="2.0" fill="#3d5d8b"/>
<circle cx="370.88" cy="584.08" r="2.0" fill="#3d5d8b"/>
<circle cx="373.13" cy="584.30" r="2.0" fill="#3d5d8b"/>
<circle cx="369.91" cy="586.52" r="2.0" fill="#3d5d8b"/>
<circle cx="372.04" cy="586.23" r="2.0" fill="#3d5d8b"/>
<circle cx="374.09" cy="586.63" r="2.0" fill="#3d5d8b"/>
<circle cx="370.97" cy="588.77" r="2.0" fill="#3d5d8b"/>
<circle cx="373.05" cy="588.64" r="2.0" fill="#3d5d8b"/>
<circle cx="370.04" cy="591.00" r="2.0" fill="#3d5d8b"/>
<circle cx="372.06" cy="590.69" r="2.0" fill="#3d5d8b"/>
<circle cx="374.21" cy="591.03" r="2.0" fill="#3d5d8b"/>
<circle cx="371.93" cy="593.14" r="2.0" fill="#3d5d8b"/>
<circle cx="369.91" cy="595.49" r="2.0" fill="#3d5d8b"/>
<circle cx="374.33" cy="595.12" r="2.0" fill="#3d5d8b"/>
<circle cx="371.70" cy="597.33" r="2.0" fill="#3d5d8b"/>
<circle cx="369.91" cy="599.75" r="2.0" fill="#3d5d8b"/>
<circle cx="374.23" cy="599.93" r="2.0" fill="#3d5d8b"/>
<line x1="367.60" y1="591.20" x2="376.40" y2="591.20" stroke="#000" stroke-width="1.5"/>
<line x1="372.00" y1="590.20" x2="372.00" y2="592.20" stroke="#000" stroke-width="0.9"/>
<line x1="370.20" y1="590.20" x2="373.80" y2="590.20" stroke="#000" stroke-width="0.8"/>
<line x1="370.20" y1="592.20" x2="373.80" y2="592.20" stroke="#000" stroke-width="0.8"/>
<path d="M379.40 556.23H384.00L381.70 560.37Z" fill="#a42a40"/>
<path d="M384.10 554.83H388.70L386.40 558.97Z" fill="#a42a40"/>
<path d="M378.70 568.33H383.30L381.00 572.47Z" fill="#a42a40"/>
<path d="M381.40 570.33H386.00L383.70 574.47Z" fill="#a42a40"/>
<path d="M383.40 570.93H388.00L385.70 575.07Z" fill="#a42a40"/>
<path d="M379.18 583.31H383.78L381.48 587.45Z" fill="#a42a40"/>
<path d="M383.53 583.34H388.13L385.83 587.48Z" fill="#a42a40"/>
<path d="M381.44 584.76H386.04L383.74 588.90Z" fill="#a42a40"/>
<path d="M380.09 586.86H384.69L382.39 591.00Z" fill="#a42a40"/>
<path d="M383.03 586.92H387.63L385.33 591.06Z" fill="#a42a40"/>
<path d="M381.31 588.20H385.91L383.61 592.34Z" fill="#a42a40"/>
<path d="M380.33 590.41H384.93L382.63 594.55Z" fill="#a42a40"/>
<path d="M382.32 590.38H386.92L384.62 594.52Z" fill="#a42a40"/>
<path d="M381.66 591.85H386.26L383.96 595.99Z" fill="#a42a40"/>
<path d="M380.78 593.89H385.38L383.08 598.03Z" fill="#a42a40"/>
<path d="M382.06 593.61H386.66L384.36 597.75Z" fill="#a42a40"/>
<path d="M381.25 595.72H385.85L383.55 599.86Z" fill="#a42a40"/>
<path d="M381.57 597.32H386.17L383.87 601.46Z" fill="#a42a40"/>
<line x1="379.30" y1="589.90" x2="388.10" y2="589.90" stroke="#000" stroke-width="1.5"/>
<line x1="383.70" y1="588.70" x2="383.70" y2="591.10" stroke="#000" stroke-width="0.9"/>
<line x1="381.90" y1="588.70" x2="385.50" y2="588.70" stroke="#000" stroke-width="0.8"/>
<line x1="381.90" y1="591.10" x2="385.50" y2="591.10" stroke="#000" stroke-width="0.8"/>
<path d="M391.50 560.23H396.10L393.80 564.37Z" fill="#3d5d8b"/>
<path d="M396.20 558.93H400.80L398.50 563.07Z" fill="#3d5d8b"/>
<path d="M393.60 570.73H398.20L395.90 574.87Z" fill="#3d5d8b"/>
<path d="M396.20 575.73H400.80L398.50 579.87Z" fill="#3d5d8b"/>
<path d="M391.30 580.43H395.90L393.60 584.57Z" fill="#3d5d8b"/>
<path d="M391.64 586.30H396.24L393.94 590.44Z" fill="#3d5d8b"/>
<path d="M395.47 585.95H400.07L397.77 590.09Z" fill="#3d5d8b"/>
<path d="M393.65 588.12H398.25L395.95 592.26Z" fill="#3d5d8b"/>
<path d="M392.59 589.67H397.19L394.89 593.81Z" fill="#3d5d8b"/>
<path d="M394.82 589.71H399.42L397.12 593.85Z" fill="#3d5d8b"/>
<path d="M393.41 591.25H398.01L395.71 595.39Z" fill="#3d5d8b"/>
<path d="M392.64 593.32H397.24L394.94 597.46Z" fill="#3d5d8b"/>
<path d="M394.28 593.24H398.88L396.58 597.38Z" fill="#3d5d8b"/>
<path d="M393.54 594.98H398.14L395.84 599.12Z" fill="#3d5d8b"/>
<path d="M393.39 596.47H397.99L395.69 600.61Z" fill="#3d5d8b"/>
<line x1="391.50" y1="589.20" x2="400.30" y2="589.20" stroke="#000" stroke-width="1.5"/>
<line x1="395.90" y1="588.00" x2="395.90" y2="590.40" stroke="#000" stroke-width="0.9"/>
<line x1="394.10" y1="588.00" x2="397.70" y2="588.00" stroke="#000" stroke-width="0.8"/>
<line x1="394.10" y1="590.40" x2="397.70" y2="590.40" stroke="#000" stroke-width="0.8"/>
<circle cx="420.20" cy="582.42" r="2.0" fill="#a42a40"/>
<circle cx="422.16" cy="582.58" r="2.0" fill="#a42a40"/>
<circle cx="425.07" cy="582.29" r="2.0" fill="#a42a40"/>
<circle cx="421.21" cy="584.52" r="2.0" fill="#a42a40"/>
<circle cx="423.66" cy="584.33" r="2.0" fill="#a42a40"/>
<circle cx="419.62" cy="587.02" r="2.0" fill="#a42a40"/>
<circle cx="422.62" cy="586.72" r="2.0" fill="#a42a40"/>
<circle cx="424.94" cy="586.59" r="2.0" fill="#a42a40"/>
<circle cx="422.57" cy="588.80" r="2.0" fill="#a42a40"/>
<circle cx="421.19" cy="591.12" r="2.0" fill="#a42a40"/>
<circle cx="424.07" cy="591.24" r="2.0" fill="#a42a40"/>
<circle cx="422.25" cy="592.79" r="2.0" fill="#a42a40"/>
<circle cx="420.88" cy="594.99" r="2.0" fill="#a42a40"/>
<circle cx="423.49" cy="594.92" r="2.0" fill="#a42a40"/>
<circle cx="422.43" cy="597.52" r="2.0" fill="#a42a40"/>
<line x1="418.00" y1="588.20" x2="426.80" y2="588.20" stroke="#000" stroke-width="1.5"/>
<line x1="422.40" y1="587.40" x2="422.40" y2="589.00" stroke="#000" stroke-width="0.9"/>
<line x1="420.60" y1="587.40" x2="424.20" y2="587.40" stroke="#000" stroke-width="0.8"/>
<line x1="420.60" y1="589.00" x2="424.20" y2="589.00" stroke="#000" stroke-width="0.8"/>
<circle cx="434.50" cy="579.90" r="2.0" fill="#3d5d8b"/>
<circle cx="432.90" cy="585.17" r="2.0" fill="#3d5d8b"/>
<circle cx="436.32" cy="584.64" r="2.0" fill="#3d5d8b"/>
<circle cx="434.56" cy="586.95" r="2.0" fill="#3d5d8b"/>
<circle cx="431.90" cy="589.40" r="2.0" fill="#3d5d8b"/>
<circle cx="434.35" cy="589.17" r="2.0" fill="#3d5d8b"/>
<circle cx="436.96" cy="589.40" r="2.0" fill="#3d5d8b"/>
<circle cx="434.60" cy="591.18" r="2.0" fill="#3d5d8b"/>
<circle cx="432.56" cy="593.15" r="2.0" fill="#3d5d8b"/>
<circle cx="436.69" cy="593.65" r="2.0" fill="#3d5d8b"/>
<circle cx="434.33" cy="595.19" r="2.0" fill="#3d5d8b"/>
<circle cx="432.91" cy="597.50" r="2.0" fill="#3d5d8b"/>
<circle cx="436.18" cy="597.83" r="2.0" fill="#3d5d8b"/>
<circle cx="434.70" cy="599.43" r="2.0" fill="#3d5d8b"/>
<line x1="430.10" y1="591.60" x2="438.90" y2="591.60" stroke="#000" stroke-width="1.5"/>
<line x1="434.50" y1="590.80" x2="434.50" y2="592.40" stroke="#000" stroke-width="0.9"/>
<line x1="432.70" y1="590.80" x2="436.30" y2="590.80" stroke="#000" stroke-width="0.8"/>
<line x1="432.70" y1="592.40" x2="436.30" y2="592.40" stroke="#000" stroke-width="0.8"/>
<path d="M441.70 576.43H446.30L444.00 580.57Z" fill="#a42a40"/>
<path d="M446.70 577.43H451.30L449.00 581.57Z" fill="#a42a40"/>
<path d="M442.42 582.24H447.02L444.72 586.38Z" fill="#a42a40"/>
<path d="M446.24 582.41H450.84L448.54 586.55Z" fill="#a42a40"/>
<path d="M443.93 583.81H448.53L446.23 587.95Z" fill="#a42a40"/>
<path d="M442.83 586.19H447.43L445.13 590.33Z" fill="#a42a40"/>
<path d="M445.83 585.80H450.43L448.13 589.94Z" fill="#a42a40"/>
<path d="M444.25 587.98H448.85L446.55 592.12Z" fill="#a42a40"/>
<path d="M442.86 589.62H447.46L445.16 593.76Z" fill="#a42a40"/>
<path d="M445.15 589.50H449.75L447.45 593.64Z" fill="#a42a40"/>
<path d="M444.19 591.43H448.79L446.49 595.57Z" fill="#a42a40"/>
<path d="M444.04 593.32H448.64L446.34 597.46Z" fill="#a42a40"/>
<path d="M444.31 595.15H448.91L446.61 599.29Z" fill="#a42a40"/>
<path d="M444.33 597.16H448.93L446.63 601.30Z" fill="#a42a40"/>
<line x1="442.10" y1="592.30" x2="450.90" y2="592.30" stroke="#000" stroke-width="1.5"/>
<line x1="446.50" y1="591.50" x2="446.50" y2="593.10" stroke="#000" stroke-width="0.9"/>
<line x1="444.70" y1="591.50" x2="448.30" y2="591.50" stroke="#000" stroke-width="0.8"/>
<line x1="444.70" y1="593.10" x2="448.30" y2="593.10" stroke="#000" stroke-width="0.8"/>
<path d="M456.20 573.03H460.80L458.50 577.17Z" fill="#3d5d8b"/>
<path d="M454.40 580.37H459.00L456.70 584.51Z" fill="#3d5d8b"/>
<path d="M457.56 580.38H462.16L459.86 584.52Z" fill="#3d5d8b"/>
<path d="M456.42 582.20H461.02L458.72 586.34Z" fill="#3d5d8b"/>
<path d="M454.76 583.78H459.36L457.06 587.92Z" fill="#3d5d8b"/>
<path d="M457.18 584.07H461.78L459.48 588.21Z" fill="#3d5d8b"/>
<path d="M456.41 585.74H461.01L458.71 589.88Z" fill="#3d5d8b"/>
<path d="M455.25 587.41H459.85L457.55 591.55Z" fill="#3d5d8b"/>
<path d="M457.32 587.49H461.92L459.62 591.63Z" fill="#3d5d8b"/>
<path d="M456.28 589.14H460.88L458.58 593.28Z" fill="#3d5d8b"/>
<path d="M456.03 590.94H460.63L458.33 595.08Z" fill="#3d5d8b"/>
<path d="M456.33 593.08H460.93L458.63 597.22Z" fill="#3d5d8b"/>
<path d="M455.99 595.12H460.59L458.29 599.26Z" fill="#3d5d8b"/>
<path d="M456.06 596.69H460.66L458.36 600.83Z" fill="#3d5d8b"/>
<line x1="454.10" y1="590.90" x2="462.90" y2="590.90" stroke="#000" stroke-width="1.5"/>
<line x1="458.50" y1="590.10" x2="458.50" y2="591.70" stroke="#000" stroke-width="0.9"/>
<line x1="456.70" y1="590.10" x2="460.30" y2="590.10" stroke="#000" stroke-width="0.8"/>
<line x1="456.70" y1="591.70" x2="460.30" y2="591.70" stroke="#000" stroke-width="0.8"/>
<path d="M359.90 549.70V547.50H372.30V549.70" fill="none" stroke="#231f20" stroke-width="0.9"/>
<text x="366.25" y="545.60" font-size="6.6" text-anchor="middle" textLength="18.90" lengthAdjust="spacingAndGlyphs">P=0.04</text>
<path d="M422.10 549.50V547.30H434.50V549.50" fill="none" stroke="#231f20" stroke-width="0.9"/>
<text x="428.45" y="545.00" font-size="6.6" text-anchor="middle" textLength="18.10" lengthAdjust="spacingAndGlyphs">P=0.03</text>
<path d="M422.10 536.00V533.80H446.90V536.00" fill="none" stroke="#231f20" stroke-width="0.9"/>
<text x="434.00" y="531.90" font-size="6.6" text-anchor="middle" textLength="18.20" lengthAdjust="spacingAndGlyphs">P=0.01</text>
<rect x="0.5" y="0.5" width="519" height="652" fill="none" stroke="#000" stroke-width="1"/>
<rect x="0" y="651" width="520" height="1" fill="#9a9a9a"/>
<rect x="0" y="652" width="520" height="1" fill="#4a4a4a"/>
</svg>
</body></html>
